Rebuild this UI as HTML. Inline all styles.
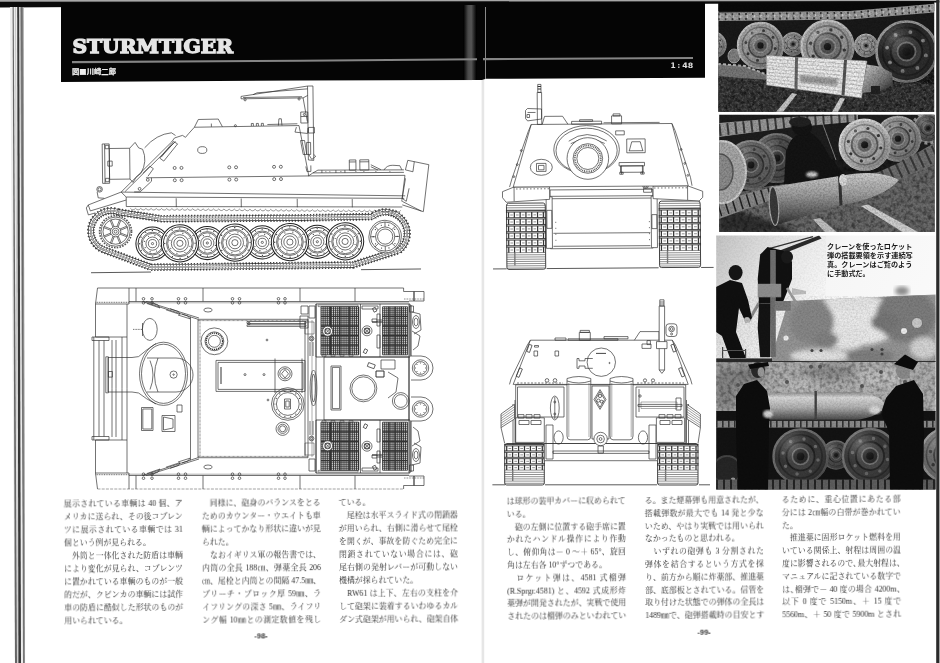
<!DOCTYPE html>
<html lang="ja"><head><meta charset="utf-8"><title>STURMTIGER</title>
<style>
html,body{margin:0;padding:0;background:#fff;}
body{width:940px;height:663px;overflow:hidden;position:relative;font-family:"Liberation Serif","Noto Serif CJK JP","Noto Serif CJK SC",serif;color:#222;}
.abs{position:absolute;}
/*c*/.col{position:absolute;will-change:transform;width:119px;font-size:7.9px;line-height:13.05px;color:#303030;font-weight:400;}
.col p{margin:0;text-align:justify;text-align-last:justify;white-space:nowrap;height:13.05px;}
.col .h{letter-spacing:-0.45em;}
.col p.e{text-align-last:left;}
.rp p{height:12.8px;}
.rp{line-height:12.8px;}
.pg{position:absolute;will-change:transform;font-family:"Liberation Sans",sans-serif;font-weight:bold;font-size:7.5px;color:#333;}
.cap{position:absolute;will-change:transform;left:826.5px;top:243.2px;width:88px;letter-spacing:0.02px;font-family:"Liberation Sans","Noto Sans CJK JP","Noto Sans CJK SC",sans-serif;font-weight:bold;font-size:7.13px;line-height:8.97px;color:#1a1a1a;}
.cap p{margin:0;white-space:nowrap;}
</style></head>
<body>

<svg class="abs" style="left:0;top:0;will-change:transform" width="940" height="663" viewBox="0 0 940 663">
<defs>
<linearGradient id="gut" x1="0" x2="1" y1="0" y2="0">
<stop offset="0" stop-color="#000"/><stop offset="0.35" stop-color="#4a4a4a"/><stop offset="0.6" stop-color="#555"/><stop offset="1" stop-color="#000"/>
</linearGradient>
<linearGradient id="topg" x1="0" x2="0" y1="0" y2="1">
<stop offset="0" stop-color="#bbb"/><stop offset="0.3" stop-color="#777"/><stop offset="0.45" stop-color="#111"/><stop offset="1" stop-color="#000"/>
</linearGradient>
</defs>
<!-- top scan edge -->
<rect x="0" y="0" width="940" height="2.2" fill="#a8a8a8"/>
<path d="M0 1.7L940 1.1L940 2.6L0 7.4Z" fill="#0a0a0a"/>
<!-- left page edges -->
<path d="M10 7L23.6 7L25.2 663L14.8 663Z" fill="#ececec"/>
<path d="M12.6 7L13.7 7L17 663L15 663Z" fill="#666"/>
<path d="M15.2 7L15.9 7L18 663L17.4 663Z" fill="#bbb"/>
<path d="M17.2 7L19.2 7L21 663L18.4 663Z" fill="#383838"/>
<path d="M20.2 7L23.5 7L25 663L23 663Z" fill="#8c8c8c"/>
<path d="M21.4 7L22.2 7L23.8 663L23.4 663Z" fill="#555"/>
<!-- right edge -->
<rect x="936.2" y="0" width="3.3" height="663" fill="#2a2a2a"/>
<rect x="939.4" y="0" width="0.6" height="663" fill="#aaa"/>
<!-- header black -->
<path d="M61 3 L705 2 L705 77.7 L486 78.8 L482 80 L300 80.6 L61 82 Z" fill="#050505"/>
<rect x="463.5" y="5" width="13" height="75" fill="url(#gut)"/>
<rect x="485.2" y="7" width="0.8" height="72" fill="#aaa"/>
<!-- gray rule -->
<path d="M72 60.9 L300 59.7 L477 58.3 L477 60.3 L300 61.8 L72 63.2 Z" fill="#858585"/>
<path d="M483 58.1 L693 56.9 L693 59 L483 60.2 Z" fill="#858585"/>
<!-- gutter line below -->
<rect x="481.6" y="80" width="2.6" height="583" fill="#e6e6e6"/>
<text x="72.4" y="52.8" font-family="DejaVu Serif, Liberation Serif, serif" font-weight="bold" font-size="17.8" fill="#e6e6e6" stroke="#e6e6e6" stroke-width="1.25" stroke-linejoin="miter" textLength="160.6" lengthAdjust="spacingAndGlyphs">STURMTIGER</text>
<text x="72" y="74" font-family="Liberation Sans, Noto Sans CJK JP, Noto Sans CJK SC, sans-serif" font-weight="bold" font-size="7.3" fill="#eee" stroke="#eee" stroke-width="0.25" textLength="44" lengthAdjust="spacingAndGlyphs">図<tspan font-family="Noto Sans CJK JP, Noto Sans CJK SC, sans-serif">■</tspan>川崎二郎</text>
<g font-family="DejaVu Sans, Liberation Sans, sans-serif" font-weight="bold" font-size="7.4" fill="#e0e0e0"><text x="670.4" y="68.3" textLength="5.2" lengthAdjust="spacingAndGlyphs">1</text><text x="677.6" y="67.8" textLength="2.6" lengthAdjust="spacingAndGlyphs">:</text><text x="682.2" y="68.3" textLength="11" lengthAdjust="spacingAndGlyphs">48</text></g>
</svg>

<svg class="abs" style="left:0;top:0" width="940" height="663" viewBox="0 0 940 663"><g transform="rotate(-0.65 260 180)" fill="none" stroke="#303030" stroke-width="0.68" stroke-linejoin="round"><path d="M90 270.8L150 270.8" stroke-width="0.8"/><path d="M360 270.8L420 270.8" stroke-width="0.8"/><path d="M118 210.5 Q140 214 160 217.6 L300 218.4 L372 217.8 A19.5 19.5 0 0 1 398 252 L352 266 L150 266 L103 248 A19.5 19.5 0 0 1 118 210.5Z" stroke="#444" stroke-width="7.6" stroke-dasharray="1.3 1.75" fill="none"/><path d="M118 210.5 Q140 214 160 217.6 L300 218.4 L372 217.8 A19.5 19.5 0 0 1 398 252 L352 266 L150 266 L103 248 A19.5 19.5 0 0 1 118 210.5Z" stroke="#2a2a2a" stroke-width="5.6" fill="none"/><path d="M118 210.5 Q140 214 160 217.6 L300 218.4 L372 217.8 A19.5 19.5 0 0 1 398 252 L352 266 L150 266 L103 248 A19.5 19.5 0 0 1 118 210.5Z" stroke="#fff" stroke-width="4.3" fill="none"/><path d="M118 210.5 Q140 214 160 217.6 L300 218.4 L372 217.8 A19.5 19.5 0 0 1 398 252 L352 266 L150 266 L103 248 A19.5 19.5 0 0 1 118 210.5Z" stroke="#3a3a3a" stroke-width="4.3" stroke-dasharray="0.6 2.45" fill="none"/><path d="M118 210.5 Q140 214 160 217.6 L300 218.4 L372 217.8 A19.5 19.5 0 0 1 398 252 L352 266 L150 266 L103 248 A19.5 19.5 0 0 1 118 210.5Z" stroke="#555" stroke-width="1.6" fill="none"/><path d="M118 210.5 Q140 214 160 217.6 L300 218.4 L372 217.8 A19.5 19.5 0 0 1 398 252 L352 266 L150 266 L103 248 A19.5 19.5 0 0 1 118 210.5Z" stroke="#fff" stroke-width="0.7" fill="none"/><circle cx="151.8" cy="242.4" r="16.6" fill="#fff" stroke-width="1.05" stroke="#222"/><circle cx="151.8" cy="242.4" r="14.5" stroke-width="0.9" stroke="#222"/><circle cx="151.8" cy="242.4" r="11.4" /><circle cx="151.8" cy="242.4" r="10.2" /><circle cx="151.8" cy="242.4" r="6.6" /><circle cx="151.8" cy="242.4" r="4.1" /><circle cx="151.8" cy="242.4" r="1.1" /><path d="M165 242.4h0.01M163.2 249h0.01M158.4 253.8h0.01M151.8 255.6h0.01M145.2 253.8h0.01M140.4 249h0.01M138.6 242.4h0.01M140.4 235.8h0.01M145.2 231h0.01M151.8 229.2h0.01M158.4 231h0.01M163.2 235.8h0.01" stroke-linecap="round" stroke-width="1.3"/><path d="M159.8 244.9h0.01M155.7 249.8h0.01M149.3 250.4h0.01M144.4 246.3h0.01M143.8 239.9h0.01M147.9 235h0.01M154.3 234.4h0.01M159.2 238.5h0.01" stroke-linecap="round" stroke-width="1.1"/><circle cx="206.6" cy="242.4" r="16.6" fill="#fff" stroke-width="1.05" stroke="#222"/><circle cx="206.6" cy="242.4" r="14.5" stroke-width="0.9" stroke="#222"/><circle cx="206.6" cy="242.4" r="11.4" /><circle cx="206.6" cy="242.4" r="10.2" /><circle cx="206.6" cy="242.4" r="6.6" /><circle cx="206.6" cy="242.4" r="4.1" /><circle cx="206.6" cy="242.4" r="1.1" /><path d="M219.8 242.4h0.01M218 249h0.01M213.2 253.8h0.01M206.6 255.6h0.01M200 253.8h0.01M195.2 249h0.01M193.4 242.4h0.01M195.2 235.8h0.01M200 231h0.01M206.6 229.2h0.01M213.2 231h0.01M218 235.8h0.01" stroke-linecap="round" stroke-width="1.3"/><path d="M214.6 244.9h0.01M210.5 249.8h0.01M204.1 250.4h0.01M199.2 246.3h0.01M198.6 239.9h0.01M202.7 235h0.01M209.1 234.4h0.01M214 238.5h0.01" stroke-linecap="round" stroke-width="1.1"/><circle cx="261.6" cy="242.4" r="16.6" fill="#fff" stroke-width="1.05" stroke="#222"/><circle cx="261.6" cy="242.4" r="14.5" stroke-width="0.9" stroke="#222"/><circle cx="261.6" cy="242.4" r="11.4" /><circle cx="261.6" cy="242.4" r="10.2" /><circle cx="261.6" cy="242.4" r="6.6" /><circle cx="261.6" cy="242.4" r="4.1" /><circle cx="261.6" cy="242.4" r="1.1" /><path d="M274.8 242.4h0.01M273 249h0.01M268.2 253.8h0.01M261.6 255.6h0.01M255 253.8h0.01M250.2 249h0.01M248.4 242.4h0.01M250.2 235.8h0.01M255 231h0.01M261.6 229.2h0.01M268.2 231h0.01M273 235.8h0.01" stroke-linecap="round" stroke-width="1.3"/><path d="M269.6 244.9h0.01M265.5 249.8h0.01M259.1 250.4h0.01M254.2 246.3h0.01M253.6 239.9h0.01M257.7 235h0.01M264.1 234.4h0.01M269 238.5h0.01" stroke-linecap="round" stroke-width="1.1"/><circle cx="316.6" cy="242.4" r="16.6" fill="#fff" stroke-width="1.05" stroke="#222"/><circle cx="316.6" cy="242.4" r="14.5" stroke-width="0.9" stroke="#222"/><circle cx="316.6" cy="242.4" r="11.4" /><circle cx="316.6" cy="242.4" r="10.2" /><circle cx="316.6" cy="242.4" r="6.6" /><circle cx="316.6" cy="242.4" r="4.1" /><circle cx="316.6" cy="242.4" r="1.1" /><path d="M329.8 242.4h0.01M328 249h0.01M323.2 253.8h0.01M316.6 255.6h0.01M310 253.8h0.01M305.2 249h0.01M303.4 242.4h0.01M305.2 235.8h0.01M310 231h0.01M316.6 229.2h0.01M323.2 231h0.01M328 235.8h0.01" stroke-linecap="round" stroke-width="1.3"/><path d="M324.6 244.9h0.01M320.5 249.8h0.01M314.1 250.4h0.01M309.2 246.3h0.01M308.6 239.9h0.01M312.7 235h0.01M319.1 234.4h0.01M324 238.5h0.01" stroke-linecap="round" stroke-width="1.1"/><circle cx="179.2" cy="242.4" r="18.6" fill="#fff" stroke-width="1.05" stroke="#222"/><circle cx="179.2" cy="242.4" r="16.5" stroke-width="0.9" stroke="#222"/><circle cx="179.2" cy="242.4" r="13.4" /><circle cx="179.2" cy="242.4" r="12.2" /><circle cx="179.2" cy="242.4" r="8.6" /><circle cx="179.2" cy="242.4" r="6.1" /><circle cx="179.2" cy="242.4" r="3.1" /><path d="M194.4 242.4h0.01M192.4 250h0.01M186.8 255.6h0.01M179.2 257.6h0.01M171.6 255.6h0.01M166 250h0.01M164 242.4h0.01M166 234.8h0.01M171.6 229.2h0.01M179.2 227.2h0.01M186.8 229.2h0.01M192.4 234.8h0.01" stroke-linecap="round" stroke-width="1.3"/><path d="M189.1 245.5h0.01M184.1 251.6h0.01M176.1 252.3h0.01M170 247.3h0.01M169.3 239.3h0.01M174.3 233.2h0.01M182.3 232.5h0.01M188.4 237.5h0.01" stroke-linecap="round" stroke-width="1.1"/><circle cx="234.2" cy="242.4" r="18.6" fill="#fff" stroke-width="1.05" stroke="#222"/><circle cx="234.2" cy="242.4" r="16.5" stroke-width="0.9" stroke="#222"/><circle cx="234.2" cy="242.4" r="13.4" /><circle cx="234.2" cy="242.4" r="12.2" /><circle cx="234.2" cy="242.4" r="8.6" /><circle cx="234.2" cy="242.4" r="6.1" /><circle cx="234.2" cy="242.4" r="3.1" /><path d="M249.4 242.4h0.01M247.4 250h0.01M241.8 255.6h0.01M234.2 257.6h0.01M226.6 255.6h0.01M221 250h0.01M219 242.4h0.01M221 234.8h0.01M226.6 229.2h0.01M234.2 227.2h0.01M241.8 229.2h0.01M247.4 234.8h0.01" stroke-linecap="round" stroke-width="1.3"/><path d="M244.1 245.5h0.01M239.1 251.6h0.01M231.1 252.3h0.01M225 247.3h0.01M224.3 239.3h0.01M229.3 233.2h0.01M237.3 232.5h0.01M243.4 237.5h0.01" stroke-linecap="round" stroke-width="1.1"/><circle cx="289.2" cy="242.4" r="18.6" fill="#fff" stroke-width="1.05" stroke="#222"/><circle cx="289.2" cy="242.4" r="16.5" stroke-width="0.9" stroke="#222"/><circle cx="289.2" cy="242.4" r="13.4" /><circle cx="289.2" cy="242.4" r="12.2" /><circle cx="289.2" cy="242.4" r="8.6" /><circle cx="289.2" cy="242.4" r="6.1" /><circle cx="289.2" cy="242.4" r="3.1" /><path d="M304.4 242.4h0.01M302.4 250h0.01M296.8 255.6h0.01M289.2 257.6h0.01M281.6 255.6h0.01M276 250h0.01M274 242.4h0.01M276 234.8h0.01M281.6 229.2h0.01M289.2 227.2h0.01M296.8 229.2h0.01M302.4 234.8h0.01" stroke-linecap="round" stroke-width="1.3"/><path d="M299.1 245.5h0.01M294.1 251.6h0.01M286.1 252.3h0.01M280 247.3h0.01M279.3 239.3h0.01M284.3 233.2h0.01M292.3 232.5h0.01M298.4 237.5h0.01" stroke-linecap="round" stroke-width="1.1"/><circle cx="344.4" cy="242.4" r="18.6" fill="#fff" stroke-width="1.05" stroke="#222"/><circle cx="344.4" cy="242.4" r="16.5" stroke-width="0.9" stroke="#222"/><circle cx="344.4" cy="242.4" r="13.4" /><circle cx="344.4" cy="242.4" r="12.2" /><circle cx="344.4" cy="242.4" r="8.6" /><circle cx="344.4" cy="242.4" r="6.1" /><circle cx="344.4" cy="242.4" r="3.1" /><path d="M359.6 242.4h0.01M357.6 250h0.01M352 255.6h0.01M344.4 257.6h0.01M336.8 255.6h0.01M331.2 250h0.01M329.2 242.4h0.01M331.2 234.8h0.01M336.8 229.2h0.01M344.4 227.2h0.01M352 229.2h0.01M357.6 234.8h0.01" stroke-linecap="round" stroke-width="1.3"/><path d="M354.3 245.5h0.01M349.3 251.6h0.01M341.3 252.3h0.01M335.2 247.3h0.01M334.5 239.3h0.01M339.5 233.2h0.01M347.5 232.5h0.01M353.6 237.5h0.01" stroke-linecap="round" stroke-width="1.1"/><circle cx="115" cy="230" r="16" fill="#fff" stroke-dasharray="1.6 1.2" stroke-width="1.6" stroke="#555"/><circle cx="115" cy="230" r="14.6" fill="#fff"/><circle cx="115" cy="230" r="12.6" /><circle cx="115" cy="230" r="5.2" /><circle cx="115" cy="230" r="3.4" /><circle cx="115" cy="230" r="1.5" /><path d="M120 231.4L126.9 234.2" /><path d="M119.5 232.6L126.4 235.4" /><path d="M117.6 234.5L120.4 241.4" /><path d="M116.4 235L119.2 241.9" /><path d="M113.6 235L110.8 241.9" /><path d="M112.4 234.5L109.6 241.4" /><path d="M110.5 232.6L103.6 235.4" /><path d="M110 231.4L103.1 234.2" /><path d="M110 228.6L103.1 225.8" /><path d="M110.5 227.4L103.6 224.6" /><path d="M112.4 225.5L109.6 218.6" /><path d="M113.6 225L110.8 218.1" /><path d="M116.4 225L119.2 218.1" /><path d="M117.6 225.5L120.4 218.6" /><path d="M119.5 227.4L126.4 224.6" /><path d="M120 228.6L126.9 225.8" /><circle cx="384.5" cy="238" r="16.3" fill="#fff"/><circle cx="384.5" cy="238" r="14.6" /><circle cx="384.5" cy="238" r="9.6" /><circle cx="384.5" cy="238" r="7.6" /><path d="M396.5 238h0.01M394.2 245.1h0.01M388.2 249.4h0.01M380.8 249.4h0.01M374.8 245.1h0.01M372.5 238h0.01M374.8 230.9h0.01M380.8 226.6h0.01M388.2 226.6h0.01M394.2 230.9h0.01" stroke-linecap="round" stroke-width="1.2"/><path d="M394.1 238L399.1 238" /><path d="M391.3 244.8L394.8 248.3" /><path d="M384.5 247.6L384.5 252.6" /><path d="M377.7 244.8L374.2 248.3" /><path d="M374.9 238L369.9 238" /><path d="M377.7 231.2L374.2 227.7" /><path d="M384.5 228.4L384.5 223.4" /><path d="M391.3 231.2L394.8 227.7" /><path d="M88 203L121 190.5L405 197.5" /><path d="M121 190.5L126 195.5L404 200" /><path d="M88 203L90 209L126 198.5" /><path d="M126 195.5L126 205L402 208.6" /><path d="M130 206.8 q2.6 3.2 5.2 0.1 q2.6 3.2 5.2 0.1 q2.6 3.2 5.2 0.1 q2.6 3.2 5.2 0.1 q2.6 3.2 5.2 0.1 q2.6 3.2 5.2 0.1 q2.6 3.2 5.2 0.1 q2.6 3.2 5.2 0.1 q2.6 3.2 5.2 0.1 q2.6 3.2 5.2 0.1 q2.6 3.2 5.2 0.1 q2.6 3.2 5.2 0.1 q2.6 3.2 5.2 0.1 q2.6 3.2 5.2 0.1 q2.6 3.2 5.2 0.1 q2.6 3.2 5.2 0.1 q2.6 3.2 5.2 0.1 q2.6 3.2 5.2 0.1 q2.6 3.2 5.2 0.1 q2.6 3.2 5.2 0.1 q2.6 3.2 5.2 0.1 q2.6 3.2 5.2 0.1 q2.6 3.2 5.2 0.1 q2.6 3.2 5.2 0.1 q2.6 3.2 5.2 0.1 q2.6 3.2 5.2 0.1 q2.6 3.2 5.2 0.1 q2.6 3.2 5.2 0.1 q2.6 3.2 5.2 0.1 q2.6 3.2 5.2 0.1 q2.6 3.2 5.2 0.1 q2.6 3.2 5.2 0.1 q2.6 3.2 5.2 0.1 q2.6 3.2 5.2 0.1 q2.6 3.2 5.2 0.1 q2.6 3.2 5.2 0.1 q2.6 3.2 5.2 0.1 q2.6 3.2 5.2 0.1 q2.6 3.2 5.2 0.1 q2.6 3.2 5.2 0.1 q2.6 3.2 5.2 0.1 q2.6 3.2 5.2 0.1 q2.6 3.2 5.2 0.1 q2.6 3.2 5.2 0.1 q2.6 3.2 5.2 0.1 q2.6 3.2 5.2 0.1 q2.6 3.2 5.2 0.1 q2.6 3.2 5.2 0.1 q2.6 3.2 5.2 0.1 q2.6 3.2 5.2 0.1 q2.6 3.2 5.2 0.1 q2.6 3.2 5.2 0.1" stroke-width="0.5"/><path d="M176 197.3L176 206.2" /><path d="M241 198.3L241 207" /><path d="M297 199.2L297 207.7" /><path d="M352 200.1L352 208.4" /><path d="M88 203L86 206L88 213L95 211" /><circle cx="99.5" cy="187.5" r="2.8" /><circle cx="99.5" cy="187.5" r="1.6" /><path d="M97 190L98 196L104 196.5" /><path d="M121 190.5L172 141L175 137L183 134.5L186 136.5L189 133L195 126.5L299.6 126L308.5 174.5L308.5 176.5L146 176.5" /><path d="M125 190L176 140.5" /><path d="M308.5 176.5L313 173.5" /><path d="M195 126.5L199 118.8L219 118.6L223 126.3" /><path d="M212 123L212 126.3" /><circle cx="236" cy="125.4" r="1" /><path d="M252 126L252 123.4L254 123.4L254 126" /><path d="M257 126L257 123.4L259 123.4L259 126" /><path d="M262 126L262 123.4L264 123.4L264 126" /><path d="M279 125.8L279.6 119L282 119L282.6 125.8" /><path d="M268 124.6L298 124.2" /><circle cx="174.8" cy="167" r="1.5" /><circle cx="174.8" cy="179.3" r="1.5" /><circle cx="181.6" cy="167" r="1.5" /><circle cx="181.6" cy="179.3" r="1.5" /><circle cx="229.4" cy="167" r="1.5" /><circle cx="229.4" cy="179.3" r="1.5" /><circle cx="236.2" cy="167" r="1.5" /><circle cx="236.2" cy="179.3" r="1.5" /><circle cx="274.2" cy="167" r="1.5" /><circle cx="274.2" cy="179.3" r="1.5" /><circle cx="281" cy="167" r="1.5" /><circle cx="281" cy="179.3" r="1.5" /><ellipse cx="202.6" cy="149.4" rx="4.6" ry="3.4" /><path d="M160 157L174 140.5L178 143L164 160L160 157" /><path d="M161.5 156L174.5 141.5" /><path d="M143 172L150 165L153.5 167.5L148 175" /><path d="M134 190.5L140 190.5L151.5 180L151.5 176.5" /><circle cx="147.8" cy="178.6" r="1.4" /><circle cx="139.5" cy="187.5" r="1.4" /><path d="M145 146.5 Q157 133 172 131.8 L176 134.5"/><path d="M143 148 Q148 160 141 172"/><path d="M143 148L139 146.5L135.5 141L130 146.8L130 177.5L133 181L136 176L141 172" /><path d="M130 146.8L109.6 146.8L109.6 177.6L130 177.6" /><rect x="102.6" y="142.2" width="7" height="39.4" /><path d="M105 142.2L105 181.6" /><rect x="108" y="159.4" width="4.4" height="5" /><rect x="105.6" y="143.6" width="3.6" height="3.4" /><rect x="105.6" y="176.6" width="3.6" height="3.4" /><path d="M313 173.5L318 170.8L404 171.5" /><path d="M313 173.5L404 174" /><path d="M308.5 176.5L405 177" /><rect x="349.5" y="161" width="6.6" height="10.2" /><rect x="360" y="161" width="9" height="10.2" /><path d="M349.5 163L356 163" /><path d="M360 163L369 163" /><path d="M371 166L381 171" /><path d="M371 168L378 171.3" /><path d="M384 171.5 Q387 166.5 393 166.8 L400 167.3 L402 171.5"/><path d="M322 170.9L322 173.7" /><path d="M336 171L336 173.8" /><path d="M345 171L345 173.8" /><path d="M330 172.6h0.01M326 172.5h0.01M341 172.5h0.01M356 172.6h0.01M364 172.6h0.01M376 172.7h0.01M390 172.8h0.01" stroke-linecap="round" stroke-width="1"/><path d="M408 162L429 166.6L423 213.5L402 206.5" /><path d="M408 162L405.5 171.5L413 173.5L414.5 163.4" /><path d="M405 177L401.5 203" /><path d="M405.5 180L402 200L406 203L409 190" /><path d="M402 203L421 213" /><path d="M308.6 160.5L308.6 86.6L314 86.6L314 161Z" /><path d="M242 96.2L308.6 86.6" /><path d="M242 96.2L242 98.6L304 98.4L308.6 96" /><path d="M244 97.3L303 97.2" /><path d="M254 94.6L258 92.8L308.6 89.4" /><circle cx="246" cy="99.6" r="1.1" /><circle cx="300" cy="99.4" r="1.1" /><path d="M304 98.4L308 122" /><rect x="301.5" y="112.5" width="7" height="11" /><path d="M301.5 117L308.5 117" /><circle cx="305" cy="115" r="1" /><path d="M297 127.5L295.5 132.5L308 134L308.6 128.5" /><rect x="309" y="128" width="6" height="5.6" /><path d="M301 141L303.5 155L307 155L305 141L301 141" /><rect x="307" y="143" width="4" height="12" /><path d="M309 155L312 160L316 157L314 155" /><path d="M306 167L307 172L311 172L311 166" /></g></svg>
<svg class="abs" style="left:0;top:0" width="940" height="663" viewBox="0 0 940 663"><g fill="none" stroke="#303030" stroke-width="0.68" stroke-linejoin="round"><path d="M97.5 288L403.6 288" /><path d="M97.5 489L403.6 489" stroke-dasharray="3 1.2" stroke="#777"/><path d="M129 301.5L409 301.5" /><path d="M129 475.5L409 475.5" /><path d="M129 302.8L409 302.8" stroke-width="0.4"/><path d="M129 474.2L409 474.2" stroke-width="0.4"/><path d="M97.5 288L95.5 304L129 304L129 288" /><path d="M95.5 304L95.5 337L127 337L127 304" /><path d="M95.5 302.3L129 302.3" stroke-width="1" stroke="#666" stroke-dasharray="1 0.7"/><rect x="92" y="337" width="17" height="3.5" /><path d="M136 288L136 301.5" /><path d="M203 288L203 301.5" /><path d="M300 288L300 301.5" /><path d="M355 288L355 301.5" /><path d="M403.6 288L403.6 291.5L424 291.5L424 301L409 301" /><path d="M404 299L424 299" stroke-dasharray="0.8 0.8"/><path d="M414 291.5L414 301" stroke-width="1.2"/><circle cx="143.5" cy="298.8" r="1.3" /><circle cx="143.5" cy="302.8" r="1.3" /><circle cx="152" cy="298.8" r="1.3" /><circle cx="152" cy="302.8" r="1.3" /><circle cx="178.5" cy="298.8" r="1.3" /><circle cx="178.5" cy="302.8" r="1.3" /><circle cx="185.5" cy="298.8" r="1.3" /><circle cx="185.5" cy="302.8" r="1.3" /><circle cx="232.5" cy="298.8" r="1.3" /><circle cx="232.5" cy="302.8" r="1.3" /><circle cx="239.5" cy="298.8" r="1.3" /><circle cx="239.5" cy="302.8" r="1.3" /><circle cx="278.5" cy="298.8" r="1.3" /><circle cx="278.5" cy="302.8" r="1.3" /><circle cx="285" cy="298.8" r="1.3" /><circle cx="285" cy="302.8" r="1.3" /><ellipse cx="208" cy="310" rx="4.2" ry="2" /><path d="M142.5 301.5L198 319.3L308 319.3" /><path d="M146 301.5L199 318" /><path d="M198 320.6L308 320.6" stroke-width="0.9" stroke="#666" stroke-dasharray="0.8 0.5"/><path d="M147 303.5L160 308L158 305L151 302" /><path d="M166 309.8L180 314.4L178.5 311.6L170 308.6" /><path d="M178 315L190 318.8L188 316L182 314" /><path d="M127 337L127 388.5" /><path d="M122 337L122 388.5" /><path d="M116 340L116 388.5" /><path d="M112 340L112 388.5" /><rect x="321" y="306.8" width="37.6" height="48" stroke-width="0.9"/><path d="M323.1 306.8v48M325.2 306.8v48M327.3 306.8v48M329.4 306.8v48M331.4 306.8v48M333.5 306.8v48M335.6 306.8v48M337.7 306.8v48M339.8 306.8v48M341.9 306.8v48M344 306.8v48M346.1 306.8v48M348.2 306.8v48M350.2 306.8v48M352.3 306.8v48M354.4 306.8v48M356.5 306.8v48M321 308.8h37.6M321 310.8h37.6M321 312.8h37.6M321 314.8h37.6M321 316.8h37.6M321 318.8h37.6M321 320.8h37.6M321 322.8h37.6M321 324.8h37.6M321 326.8h37.6M321 328.8h37.6M321 330.8h37.6M321 332.8h37.6M321 334.8h37.6M321 336.8h37.6M321 338.8h37.6M321 340.8h37.6M321 342.8h37.6M321 344.8h37.6M321 346.8h37.6M321 348.8h37.6M321 350.8h37.6M321 352.8h37.6" stroke-width="0.85" stroke="#2a2a2a"/><path d="M321 316.4h37.6M321 326h37.6M321 335.6h37.6M321 345.2h37.6M330.4 306.8v48M339.8 306.8v48M349.2 306.8v48" stroke-width="1.3" stroke="#333"/><rect x="382.6" y="306.8" width="25" height="48" stroke-width="0.9"/><path d="M384.7 306.8v48M386.8 306.8v48M388.9 306.8v48M390.9 306.8v48M393 306.8v48M395.1 306.8v48M397.2 306.8v48M399.3 306.8v48M401.4 306.8v48M403.4 306.8v48M405.5 306.8v48M382.6 308.8h25M382.6 310.8h25M382.6 312.8h25M382.6 314.8h25M382.6 316.8h25M382.6 318.8h25M382.6 320.8h25M382.6 322.8h25M382.6 324.8h25M382.6 326.8h25M382.6 328.8h25M382.6 330.8h25M382.6 332.8h25M382.6 334.8h25M382.6 336.8h25M382.6 338.8h25M382.6 340.8h25M382.6 342.8h25M382.6 344.8h25M382.6 346.8h25M382.6 348.8h25M382.6 350.8h25M382.6 352.8h25" stroke-width="0.85" stroke="#2a2a2a"/><path d="M382.6 316.4h25M382.6 326h25M382.6 335.6h25M382.6 345.2h25M388.9 306.8v48M395.1 306.8v48M401.4 306.8v48" stroke-width="1.3" stroke="#333"/><circle cx="327.6" cy="331.2" r="5" fill="#fff"/><circle cx="327.6" cy="331.2" r="3" /><rect x="325.4" y="328.9" width="4.5" height="4.5" /><path d="M325.4 328.9L329.9 333.4" /><path d="M325.4 333.4L329.9 328.9" /><circle cx="367" cy="330.8" r="5" fill="#fff"/><circle cx="367" cy="330.8" r="3" /><rect x="364.8" y="328.6" width="4.5" height="4.5" /><path d="M364.8 328.6L369.2 333.1" /><path d="M364.8 333.1L369.2 328.6" /><rect x="316" y="304" width="94" height="53" stroke-width="0.8"/><path d="M360.5 304L360.5 357" /><path d="M380 304L380 357" /><rect x="372" y="319" width="5" height="3" /><rect x="377" y="314" width="3" height="12" /><rect x="377" y="335" width="3" height="13" /><rect x="318" y="305" width="40" height="1.6" stroke-width="0.5"/><rect x="322" y="354.8" width="4" height="1.6" stroke-width="0.5"/><rect x="331" y="354.8" width="4" height="1.6" stroke-width="0.5"/><rect x="340" y="354.8" width="4" height="1.6" stroke-width="0.5"/><rect x="349" y="354.8" width="4" height="1.6" stroke-width="0.5"/><rect x="362" y="306" width="16" height="3" /><rect x="364" y="349" width="3" height="4" transform="rotate(25 365 351)"/><rect x="373" y="308" width="3" height="4" transform="rotate(-25 374 309.5)"/><path d="M358.6 306.8L358.6 354.8" stroke-width="1.2"/><path d="M382.6 320L378 320" /><path d="M382.6 322L372 322" stroke-width="1"/><rect x="309" y="306" width="6" height="12" /><rect x="305" y="322" width="9" height="12" stroke-width="0.5"/><circle cx="311.5" cy="338.5" r="2.4" /><circle cx="311.5" cy="338.5" r="1.2" /><path d="M310 342L310 356" /><path d="M313 342L313 356" /><path d="M411 305L411 356" stroke-width="0.9"/><rect x="409.5" y="306" width="4" height="6" /><path d="M412 312L420 314L421 330L414 334" /><path d="M411 356 L421 356 A12 12 0 0 1 421 380 L411 380"/><circle cx="420.5" cy="368" r="8.2" /><circle cx="420.5" cy="368" r="6.4" /><path d="M425.5 368h0.01M424 371.5h0.01M420.5 373h0.01M417 371.5h0.01M415.5 368h0.01M417 364.5h0.01M420.5 363h0.01M424 364.5h0.01" stroke-linecap="round" stroke-width="0.9"/><ellipse cx="416" cy="322" rx="3.5" ry="6.5" /><ellipse cx="416" cy="322" rx="2" ry="4" /><path d="M412 331L420 336L418 346L413 350" /><path d="M97.5 489L95.5 473L129 473L129 489" /><path d="M95.5 473L95.5 440L127 440L127 473" /><path d="M95.5 474.7L129 474.7" stroke-width="1" stroke="#666" stroke-dasharray="1 0.7"/><rect x="92" y="436.5" width="17" height="3.5" /><path d="M136 489L136 475.5" /><path d="M203 489L203 475.5" /><path d="M300 489L300 475.5" /><path d="M355 489L355 475.5" /><path d="M403.6 489L403.6 485.5L424 485.5L424 476L409 476" /><path d="M404 478L424 478" stroke-dasharray="0.8 0.8"/><path d="M414 485.5L414 476" stroke-width="1.2"/><circle cx="143.5" cy="478.2" r="1.3" /><circle cx="143.5" cy="474.2" r="1.3" /><circle cx="152" cy="478.2" r="1.3" /><circle cx="152" cy="474.2" r="1.3" /><circle cx="178.5" cy="478.2" r="1.3" /><circle cx="178.5" cy="474.2" r="1.3" /><circle cx="185.5" cy="478.2" r="1.3" /><circle cx="185.5" cy="474.2" r="1.3" /><circle cx="232.5" cy="478.2" r="1.3" /><circle cx="232.5" cy="474.2" r="1.3" /><circle cx="239.5" cy="478.2" r="1.3" /><circle cx="239.5" cy="474.2" r="1.3" /><circle cx="278.5" cy="478.2" r="1.3" /><circle cx="278.5" cy="474.2" r="1.3" /><circle cx="285" cy="478.2" r="1.3" /><circle cx="285" cy="474.2" r="1.3" /><ellipse cx="208" cy="467" rx="4.2" ry="2" /><path d="M142.5 475.5L198 457.7L308 457.7" /><path d="M146 475.5L199 459" /><path d="M198 456.4L308 456.4" stroke-width="0.9" stroke="#666" stroke-dasharray="0.8 0.5"/><path d="M147 473.5L160 469L158 472L151 475" /><path d="M166 467.2L180 462.6L178.5 465.4L170 468.4" /><path d="M178 462L190 458.2L188 461L182 463" /><path d="M127 440L127 388.5" /><path d="M122 440L122 388.5" /><path d="M116 437L116 388.5" /><path d="M112 437L112 388.5" /><rect x="321" y="422.2" width="37.6" height="48" stroke-width="0.9"/><path d="M323.1 422.2v48M325.2 422.2v48M327.3 422.2v48M329.4 422.2v48M331.4 422.2v48M333.5 422.2v48M335.6 422.2v48M337.7 422.2v48M339.8 422.2v48M341.9 422.2v48M344 422.2v48M346.1 422.2v48M348.2 422.2v48M350.2 422.2v48M352.3 422.2v48M354.4 422.2v48M356.5 422.2v48M321 424.2h37.6M321 426.2h37.6M321 428.2h37.6M321 430.2h37.6M321 432.2h37.6M321 434.2h37.6M321 436.2h37.6M321 438.2h37.6M321 440.2h37.6M321 442.2h37.6M321 444.2h37.6M321 446.2h37.6M321 448.2h37.6M321 450.2h37.6M321 452.2h37.6M321 454.2h37.6M321 456.2h37.6M321 458.2h37.6M321 460.2h37.6M321 462.2h37.6M321 464.2h37.6M321 466.2h37.6M321 468.2h37.6" stroke-width="0.85" stroke="#2a2a2a"/><path d="M321 431.8h37.6M321 441.4h37.6M321 451h37.6M321 460.6h37.6M330.4 422.2v48M339.8 422.2v48M349.2 422.2v48" stroke-width="1.3" stroke="#333"/><rect x="382.6" y="422.2" width="25" height="48" stroke-width="0.9"/><path d="M384.7 422.2v48M386.8 422.2v48M388.9 422.2v48M390.9 422.2v48M393 422.2v48M395.1 422.2v48M397.2 422.2v48M399.3 422.2v48M401.4 422.2v48M403.4 422.2v48M405.5 422.2v48M382.6 424.2h25M382.6 426.2h25M382.6 428.2h25M382.6 430.2h25M382.6 432.2h25M382.6 434.2h25M382.6 436.2h25M382.6 438.2h25M382.6 440.2h25M382.6 442.2h25M382.6 444.2h25M382.6 446.2h25M382.6 448.2h25M382.6 450.2h25M382.6 452.2h25M382.6 454.2h25M382.6 456.2h25M382.6 458.2h25M382.6 460.2h25M382.6 462.2h25M382.6 464.2h25M382.6 466.2h25M382.6 468.2h25" stroke-width="0.85" stroke="#2a2a2a"/><path d="M382.6 431.8h25M382.6 441.4h25M382.6 451h25M382.6 460.6h25M388.9 422.2v48M395.1 422.2v48M401.4 422.2v48" stroke-width="1.3" stroke="#333"/><circle cx="327.6" cy="445.8" r="5" fill="#fff"/><circle cx="327.6" cy="445.8" r="3" /><rect x="325.4" y="443.6" width="4.5" height="4.5" /><path d="M325.4 443.6L329.9 448.1" /><path d="M325.4 448.1L329.9 443.6" /><circle cx="367" cy="446.2" r="5" fill="#fff"/><circle cx="367" cy="446.2" r="3" /><rect x="364.8" y="443.9" width="4.5" height="4.5" /><path d="M364.8 443.9L369.2 448.4" /><path d="M364.8 448.4L369.2 443.9" /><rect x="316" y="420" width="94" height="53" stroke-width="0.8"/><path d="M360.5 473L360.5 420" /><path d="M380 473L380 420" /><rect x="372" y="455" width="5" height="3" /><rect x="377" y="451" width="3" height="12" /><rect x="377" y="429" width="3" height="13" /><rect x="318" y="470.4" width="40" height="1.6" stroke-width="0.5"/><rect x="322" y="420.6" width="4" height="1.6" stroke-width="0.5"/><rect x="331" y="420.6" width="4" height="1.6" stroke-width="0.5"/><rect x="340" y="420.6" width="4" height="1.6" stroke-width="0.5"/><rect x="349" y="420.6" width="4" height="1.6" stroke-width="0.5"/><rect x="362" y="468" width="16" height="3" /><rect x="364" y="424" width="3" height="4" transform="rotate(25 365 426)"/><rect x="373" y="466" width="3" height="4" transform="rotate(-25 374 467.5)"/><path d="M358.6 470.2L358.6 422.2" stroke-width="1.2"/><path d="M382.6 457L378 457" /><path d="M382.6 455L372 455" stroke-width="1"/><rect x="309" y="459" width="6" height="12" /><rect x="305" y="443" width="9" height="12" stroke-width="0.5"/><circle cx="311.5" cy="438.5" r="2.4" /><circle cx="311.5" cy="438.5" r="1.2" /><path d="M310 435L310 421" /><path d="M313 435L313 421" /><path d="M411 472L411 421" stroke-width="0.9"/><rect x="409.5" y="465" width="4" height="6" /><path d="M412 465L420 463L421 447L414 443" /><path d="M411 421 L421 421 A12 12 0 0 0 421 397 L411 397"/><circle cx="420.5" cy="409" r="8.2" /><circle cx="420.5" cy="409" r="6.4" /><path d="M425.5 409h0.01M424 412.5h0.01M420.5 414h0.01M417 412.5h0.01M415.5 409h0.01M417 405.5h0.01M420.5 404h0.01M424 405.5h0.01" stroke-linecap="round" stroke-width="0.9"/><ellipse cx="416" cy="455" rx="3.5" ry="6.5" /><ellipse cx="416" cy="455" rx="2" ry="4" /><path d="M412 446L420 441L418 431L413 427" /><path d="M93.8 337L93.8 440" /><path d="M99 340.5L99 436.5" /><path d="M104 340.5L104 436.5" /><path d="M198 319.3L198 457.7" /><path d="M190.5 316.8L190.5 460.2" /><path d="M200 320.5L200 456.5" stroke-dasharray="0.8 0.6"/><path d="M308 319.3L308 457.7" /><path d="M305 320.5L305 456.5" /><path d="M316 304L316 473" /><path d="M312 320L312 457" stroke-width="0.4"/><ellipse cx="149.8" cy="329.4" rx="7.4" ry="11" /><path d="M142.5 323L142.5 336" /><path d="M133 329.4L142.5 329.4" stroke-dasharray="1 0.6"/><ellipse cx="163.5" cy="373.8" rx="24" ry="31.6" /><ellipse cx="163.5" cy="373.8" rx="22" ry="29.6" /><path d="M138.6 356.6 L132 357.5 L108 357.5 L108 392 L132 392 L138.6 393"/><rect x="105.8" y="356.8" width="2.6" height="36" /><rect x="108.4" y="371.5" width="4" height="5.6" /><path d="M138.6 356.6 Q146 350 156 343.5"/><path d="M138.6 393 Q146 399 156 404"/><path d="M147 358 L176 358 A17 17 0 0 1 176 392 L147 392"/><path d="M150 360.5 Q156 375 150 389.5"/><path d="M158 358 Q151 375 158 392"/><circle cx="173.6" cy="374.6" r="3.6" /><circle cx="173.6" cy="374.6" r="0.7" /><rect x="141.5" y="407.5" width="11.5" height="23" /><rect x="142.8" y="409" width="9" height="20" /><rect x="162" y="415.5" width="13" height="16" /><path d="M163.5 417L173 419L173 428L163.5 430Z" /><rect x="177" y="405" width="5" height="7" /><circle cx="214.4" cy="341.3" r="13.4" /><circle cx="214.4" cy="341.3" r="9.4" /><circle cx="214.4" cy="341.3" r="8.2" stroke-dasharray="1.2 0.8" stroke-width="1.4"/><circle cx="214.4" cy="341.3" r="6" /><rect x="216" y="360.4" width="89" height="31" /><rect x="218" y="362.4" width="85" height="27" /><path d="M221 367L221 384" stroke-width="1"/><circle cx="245" cy="374.6" r="1" /><circle cx="264" cy="374.6" r="1" /><path d="M275 358.5L275 393" /><path d="M302 358.5L302 393" /><circle cx="285" cy="373.8" r="7" /><circle cx="285" cy="373.8" r="5.2" /><path d="M285 369.5L288.5 373.8L285 378L281.5 373.8Z" /><rect x="247" y="321.5" width="59" height="2" /><rect x="247" y="324.8" width="59" height="1.6" /><circle cx="249" cy="323.6" r="1.2" /><rect x="300" y="316" width="8" height="12" /><rect x="301" y="306" width="7" height="8" /><circle cx="287.8" cy="404" r="16.3" /><circle cx="287.8" cy="404" r="14.4" /><circle cx="287.8" cy="404" r="11.4" /><path d="M300.7 404h0.01M299.4 409.6h0.01M295.8 414.1h0.01M290.7 416.6h0.01M284.9 416.6h0.01M279.8 414.1h0.01M276.2 409.6h0.01M274.9 404h0.01M276.2 398.4h0.01M279.8 393.9h0.01M284.9 391.4h0.01M290.7 391.4h0.01M295.8 393.9h0.01M299.4 398.4h0.01" stroke-linecap="round" stroke-width="1.1"/><rect x="284.5" y="399" width="6" height="10" /><rect x="285.8" y="401" width="3.4" height="6" /><circle cx="282.6" cy="428.8" r="6.6" /><circle cx="282.6" cy="428.8" r="4.6" /><circle cx="282.6" cy="428.8" r="3" /><circle cx="267" cy="340" r="0.9" /><circle cx="268" cy="400" r="0.9" /><rect x="324" y="357" width="85" height="63" /><rect x="331" y="366" width="10" height="44" /><rect x="332.4" y="367.4" width="7.2" height="41.2" /><circle cx="363.4" cy="388.4" r="13.4" /><circle cx="363.4" cy="388.4" r="11.6" /><circle cx="400.8" cy="401" r="8.4" /><circle cx="400.8" cy="401" r="6.4" /><rect x="381" y="360" width="14" height="9" /><rect x="376" y="371" width="8" height="6" stroke-width="1"/><path d="M388 372L398 378L396 392L388 398" /><rect x="368" y="363.5" width="7" height="4" transform="rotate(20 371 365)"/><ellipse cx="313.5" cy="388" rx="3.4" ry="18" /><ellipse cx="313.5" cy="388" rx="1.8" ry="14" /><path d="M409 304L409 473" stroke-width="0.8"/></g></svg>
<svg class="abs" style="left:0;top:0" width="940" height="663" viewBox="0 0 940 663"><g transform="rotate(-0.4 600 180)" fill="none" stroke="#303030" stroke-width="0.68" stroke-linejoin="round"><path d="M492.4 268.2L506 268.2" stroke-width="0.8"/><path d="M546 268.2L658 268.2" stroke-width="0.8"/><path d="M700.5 268.2L713 268.2" stroke-width="0.8"/><path d="M508.3 202.6 L543.1 202.6 Q545.1 202.6 545.1 205.6 L545.1 266.8 Q545.1 268.8 543.1 268.8 L508.3 268.8 Q506.3 268.8 506.3 266.8 L506.3 205.6 Q506.3 202.6 508.3 202.6Z" fill="#fff" stroke-width="0.9"/><path d="M506.3 204.9h38.8M506.3 207.2h38.8M506.3 209.5h38.8M510 214.4h2.6M515.8 214.4h2.6M521.6 214.4h2.6M527.4 214.4h2.6M533.2 214.4h2.6M539 214.4h2.6M510 221.4h2.6M515.8 221.4h2.6M521.6 221.4h2.6M527.4 221.4h2.6M533.2 221.4h2.6M539 221.4h2.6M510 228.4h2.6M515.8 228.4h2.6M521.6 228.4h2.6M527.4 228.4h2.6M533.2 228.4h2.6M539 228.4h2.6M510 235.4h2.6M515.8 235.4h2.6M521.6 235.4h2.6M527.4 235.4h2.6M533.2 235.4h2.6M539 235.4h2.6M510 242.4h2.6M515.8 242.4h2.6M521.6 242.4h2.6M527.4 242.4h2.6M533.2 242.4h2.6M539 242.4h2.6M510 249.4h2.6M515.8 249.4h2.6M521.6 249.4h2.6M527.4 249.4h2.6M533.2 249.4h2.6M539 249.4h2.6M506.3 252.1h38.8M506.3 254.3h38.8M506.3 256.5h38.8M506.3 258.7h38.8M506.3 260.9h38.8M506.3 263.1h38.8M506.3 265.3h38.8M506.3 267.5h38.8" stroke-width="0.6" stroke="#444"/><path d="M505.7 210.1h40M505.7 211.5h40M505.7 217.1h40M505.7 218.5h40M505.7 224.1h40M505.7 225.5h40M505.7 231.1h40M505.7 232.5h40M505.7 238.1h40M505.7 239.5h40M505.7 245.1h40M505.7 246.5h40" stroke-width="0.85" stroke="#2a2a2a"/><path d="M508.3 211.5v5.6M514.1 211.5v5.6M519.9 211.5v5.6M525.7 211.5v5.6M531.5 211.5v5.6M537.3 211.5v5.6M543.1 211.5v5.6M508.3 218.5v5.6M514.1 218.5v5.6M519.9 218.5v5.6M525.7 218.5v5.6M531.5 218.5v5.6M537.3 218.5v5.6M543.1 218.5v5.6M508.3 225.5v5.6M514.1 225.5v5.6M519.9 225.5v5.6M525.7 225.5v5.6M531.5 225.5v5.6M537.3 225.5v5.6M543.1 225.5v5.6M508.3 232.5v5.6M514.1 232.5v5.6M519.9 232.5v5.6M525.7 232.5v5.6M531.5 232.5v5.6M537.3 232.5v5.6M543.1 232.5v5.6M508.3 239.5v5.6M514.1 239.5v5.6M519.9 239.5v5.6M525.7 239.5v5.6M531.5 239.5v5.6M537.3 239.5v5.6M543.1 239.5v5.6M508.3 246.5v5.6M514.1 246.5v5.6M519.9 246.5v5.6M525.7 246.5v5.6M531.5 246.5v5.6M537.3 246.5v5.6M543.1 246.5v5.6" stroke-width="1.25" stroke="#333"/><path d="M514.3 252.1L514.3 264.8" stroke-width="1.4" stroke="#777"/><path d="M661 201.6 L698 201.6 Q700 201.6 700 204.6 L700 266 Q700 268 698 268 L661 268 Q659 268 659 266 L659 204.6 Q659 201.6 661 201.6Z" fill="#fff" stroke-width="0.9"/><path d="M659 203.9h41M659 206.2h41M659 208.5h41M662.9 213.4h2.8M669 213.4h2.8M675.2 213.4h2.8M681.4 213.4h2.8M687.5 213.4h2.8M693.7 213.4h2.8M662.9 220.4h2.8M669 220.4h2.8M675.2 220.4h2.8M681.4 220.4h2.8M687.5 220.4h2.8M693.7 220.4h2.8M662.9 227.4h2.8M669 227.4h2.8M675.2 227.4h2.8M681.4 227.4h2.8M687.5 227.4h2.8M693.7 227.4h2.8M662.9 234.4h2.8M669 234.4h2.8M675.2 234.4h2.8M681.4 234.4h2.8M687.5 234.4h2.8M693.7 234.4h2.8M662.9 241.4h2.8M669 241.4h2.8M675.2 241.4h2.8M681.4 241.4h2.8M687.5 241.4h2.8M693.7 241.4h2.8M662.9 248.4h2.8M669 248.4h2.8M675.2 248.4h2.8M681.4 248.4h2.8M687.5 248.4h2.8M693.7 248.4h2.8M659 251.1h41M659 253.3h41M659 255.5h41M659 257.7h41M659 259.9h41M659 262.1h41M659 264.3h41M659 266.5h41" stroke-width="0.6" stroke="#444"/><path d="M658.4 209.1h42.2M658.4 210.5h42.2M658.4 216.1h42.2M658.4 217.5h42.2M658.4 223.1h42.2M658.4 224.5h42.2M658.4 230.1h42.2M658.4 231.5h42.2M658.4 237.1h42.2M658.4 238.5h42.2M658.4 244.1h42.2M658.4 245.5h42.2" stroke-width="0.85" stroke="#2a2a2a"/><path d="M661 210.5v5.6M667.2 210.5v5.6M673.3 210.5v5.6M679.5 210.5v5.6M685.7 210.5v5.6M691.8 210.5v5.6M698 210.5v5.6M661 217.5v5.6M667.2 217.5v5.6M673.3 217.5v5.6M679.5 217.5v5.6M685.7 217.5v5.6M691.8 217.5v5.6M698 217.5v5.6M661 224.5v5.6M667.2 224.5v5.6M673.3 224.5v5.6M679.5 224.5v5.6M685.7 224.5v5.6M691.8 224.5v5.6M698 224.5v5.6M661 231.5v5.6M667.2 231.5v5.6M673.3 231.5v5.6M679.5 231.5v5.6M685.7 231.5v5.6M691.8 231.5v5.6M698 231.5v5.6M661 238.5v5.6M667.2 238.5v5.6M673.3 238.5v5.6M679.5 238.5v5.6M685.7 238.5v5.6M691.8 238.5v5.6M698 238.5v5.6M661 245.5v5.6M667.2 245.5v5.6M673.3 245.5v5.6M679.5 245.5v5.6M685.7 245.5v5.6M691.8 245.5v5.6M698 245.5v5.6" stroke-width="1.25" stroke="#333"/><path d="M667 251.1L667 264" stroke-width="1.4" stroke="#777"/><rect x="550" y="189.6" width="102.7" height="58.8" fill="#fff"/><path d="M550 196L652.7 196" /><path d="M550 198.4L652.7 198.4" /><path d="M553 233L650 233" /><path d="M553 246L650 246" /><rect x="546" y="196.5" width="6" height="51.5" fill="#fff"/><rect x="651" y="196.5" width="6" height="51.5" fill="#fff"/><rect x="546.6" y="210" width="5" height="18" /><rect x="651.6" y="215" width="5" height="14" /><path d="M555.5 222h0.01M555.5 228h0.01M555.5 234h0.01M555.5 240h0.01M649 222h0.01M649 228h0.01M649 234h0.01M649 240h0.01" stroke-linecap="round" stroke-width="0.9"/><path d="M514 186.4L549.5 186.4L549.5 199L506 201.6L502.4 197L502.4 191L514 186.4Z" fill="#fff"/><path d="M653 186.4L687.5 186.4L702.6 192L702.6 198L699 201.6L653 199Z" fill="#fff"/><path d="M514 186.4L514 200.6" /><path d="M687.5 186.4L687.5 200.6" /><path d="M516 188.4L549 188.4" stroke-dasharray="1.5 2"/><path d="M654 188.4L687 188.4" stroke-dasharray="1.5 2"/><circle cx="645.5" cy="185.6" r="3" /><circle cx="645.5" cy="185.6" r="1.8" /><rect x="643.5" y="188.6" width="8" height="4" /><path d="M531.6 124L672.3 124L688.2 186.4L513.2 186.4Z" fill="#fff"/><path d="M531.6 124L528.6 131L512 178L509.5 186.4" /><path d="M672.3 124L675.4 131L690.5 178L692 186.4" /><circle cx="521.5" cy="150" r="0.9" /><circle cx="681.3" cy="150" r="0.9" /><circle cx="517.4" cy="164" r="0.9" /><circle cx="684.9" cy="164" r="0.9" /><circle cx="513.9" cy="176" r="0.9" /><circle cx="687.9" cy="176" r="0.9" /><ellipse cx="586.8" cy="149.5" rx="32.8" ry="24" /><ellipse cx="586.8" cy="150.5" rx="30.6" ry="22.4" /><path d="M569 141 Q587 128 607 141"/><path d="M571 143.5 Q587 134 605 143.5"/><circle cx="588" cy="158.4" r="20.8" fill="#fff"/><circle cx="588" cy="158.4" r="14.8" /><circle cx="588" cy="158.4" r="13" stroke-dasharray="0.9 0.9" stroke-width="1.8" stroke="#555"/><circle cx="588" cy="158.4" r="11" /><ellipse cx="541.4" cy="166.9" rx="11" ry="8" /><rect x="536.6" y="163" width="9.5" height="8" /><rect x="538.6" y="165" width="5.5" height="4.4" /><rect x="627" y="139.2" width="18.4" height="13.8" /><path d="M629.5 151L632 142L640.5 142L643 151" /><path d="M629 151L643.5 151" /><rect x="619.2" y="162.7" width="25.4" height="3.4" /><rect x="620.6" y="166.1" width="22.6" height="6.4" /><path d="M621.5 174.4L621.5 166" /><path d="M642.5 174.4L642.5 166" /><rect x="619.8" y="172.4" width="3.4" height="2" /><rect x="640.8" y="172.4" width="3.4" height="2" /><rect x="616" y="131" width="8.6" height="4" /><path d="M542.6 124L545 116L563 116L568.3 124" /><rect x="572" y="121.2" width="30" height="2.8" /><rect x="580" y="119.6" width="13" height="1.6" /><rect x="612" y="116" width="10" height="8" /><rect x="613.5" y="114" width="7" height="2" /><path d="M604 122.8L660 122.8" /><rect x="537.8" y="92" width="4.4" height="32" /><rect x="538.4" y="84" width="3.2" height="8" /><path d="M538.4 86L541.6 86" stroke-width="1"/><path d="M538.4 88.5L541.6 88.5" stroke-width="1"/><path d="M526 110L528 108L542 108.6L542 118.6L528 120.4L526 118L526 110Z" /><path d="M528 112L536 112" /><rect x="527.4" y="114" width="2.6" height="3" /></g></svg>
<svg class="abs" style="left:0;top:0" width="940" height="663" viewBox="0 0 940 663"><g fill="none" stroke="#303030" stroke-width="0.68" stroke-linejoin="round"><path d="M492.4 484.8L505 484.8" stroke-width="0.8"/><path d="M545 484.8L657 484.8" stroke-width="0.8"/><path d="M699 484.8L710 484.8" stroke-width="0.8"/><path d="M506.7 443.5 L542.3 443.5 Q544.3 443.5 544.3 446.5 L544.3 483 Q544.3 485 542.3 485 L506.7 485 Q504.7 485 504.7 483 L504.7 446.5 Q504.7 443.5 506.7 443.5Z" fill="#fff" stroke-width="0.9"/><path d="M508.5 448.5h2.7M514.4 448.5h2.7M520.3 448.5h2.7M526.3 448.5h2.7M532.2 448.5h2.7M538.1 448.5h2.7M508.5 454.9h2.7M514.4 454.9h2.7M520.3 454.9h2.7M526.3 454.9h2.7M532.2 454.9h2.7M538.1 454.9h2.7M508.5 461.3h2.7M514.4 461.3h2.7M520.3 461.3h2.7M526.3 461.3h2.7M532.2 461.3h2.7M538.1 461.3h2.7M508.5 467.7h2.7M514.4 467.7h2.7M520.3 467.7h2.7M526.3 467.7h2.7M532.2 467.7h2.7M538.1 467.7h2.7M504.7 470.1h39.6M504.7 472.3h39.6M504.7 474.5h39.6M504.7 476.7h39.6M504.7 478.9h39.6M504.7 481.1h39.6M504.7 483.3h39.6" stroke-width="0.6" stroke="#444"/><path d="M504.1 444.5h40.8M504.1 445.9h40.8M504.1 450.9h40.8M504.1 452.3h40.8M504.1 457.3h40.8M504.1 458.7h40.8M504.1 463.7h40.8M504.1 465.1h40.8" stroke-width="0.85" stroke="#2a2a2a"/><path d="M506.7 445.9v5M512.6 445.9v5M518.6 445.9v5M524.5 445.9v5M530.4 445.9v5M536.4 445.9v5M542.3 445.9v5M506.7 452.3v5M512.6 452.3v5M518.6 452.3v5M524.5 452.3v5M530.4 452.3v5M536.4 452.3v5M542.3 452.3v5M506.7 458.7v5M512.6 458.7v5M518.6 458.7v5M524.5 458.7v5M530.4 458.7v5M536.4 458.7v5M542.3 458.7v5M506.7 465.1v5M512.6 465.1v5M518.6 465.1v5M524.5 465.1v5M530.4 465.1v5M536.4 465.1v5M542.3 465.1v5" stroke-width="1.25" stroke="#333"/><path d="M512.7 470.1L512.7 481" stroke-width="1.4" stroke="#777"/><path d="M659.6 443.5 L696 443.5 Q698 443.5 698 446.5 L698 483 Q698 485 696 485 L659.6 485 Q657.6 485 657.6 483 L657.6 446.5 Q657.6 443.5 659.6 443.5Z" fill="#fff" stroke-width="0.9"/><path d="M661.4 448.5h2.7M667.5 448.5h2.7M673.6 448.5h2.7M679.6 448.5h2.7M685.7 448.5h2.7M691.8 448.5h2.7M661.4 454.9h2.7M667.5 454.9h2.7M673.6 454.9h2.7M679.6 454.9h2.7M685.7 454.9h2.7M691.8 454.9h2.7M661.4 461.3h2.7M667.5 461.3h2.7M673.6 461.3h2.7M679.6 461.3h2.7M685.7 461.3h2.7M691.8 461.3h2.7M661.4 467.7h2.7M667.5 467.7h2.7M673.6 467.7h2.7M679.6 467.7h2.7M685.7 467.7h2.7M691.8 467.7h2.7M657.6 470.1h40.4M657.6 472.3h40.4M657.6 474.5h40.4M657.6 476.7h40.4M657.6 478.9h40.4M657.6 481.1h40.4M657.6 483.3h40.4" stroke-width="0.6" stroke="#444"/><path d="M657 444.5h41.6M657 445.9h41.6M657 450.9h41.6M657 452.3h41.6M657 457.3h41.6M657 458.7h41.6M657 463.7h41.6M657 465.1h41.6" stroke-width="0.85" stroke="#2a2a2a"/><path d="M659.6 445.9v5M665.7 445.9v5M671.7 445.9v5M677.8 445.9v5M683.9 445.9v5M689.9 445.9v5M696 445.9v5M659.6 452.3v5M665.7 452.3v5M671.7 452.3v5M677.8 452.3v5M683.9 452.3v5M689.9 452.3v5M696 452.3v5M659.6 458.7v5M665.7 458.7v5M671.7 458.7v5M677.8 458.7v5M683.9 458.7v5M689.9 458.7v5M696 458.7v5M659.6 465.1v5M665.7 465.1v5M671.7 465.1v5M677.8 465.1v5M683.9 465.1v5M689.9 465.1v5M696 465.1v5" stroke-width="1.25" stroke="#333"/><path d="M665.6 470.1L665.6 481" stroke-width="1.4" stroke="#777"/><rect x="544.3" y="443.5" width="113.3" height="17.2" fill="#fff"/><rect x="553" y="451" width="96" height="2.4" /><rect x="546" y="425" width="7" height="34" /><rect x="649" y="425" width="7" height="34" /><ellipse cx="558.6" cy="437.5" rx="4.6" ry="6.6" /><ellipse cx="643" cy="437.5" rx="4.6" ry="6.6" /><path d="M515.7 384.8L685.7 384.8L685.7 443.5L515.7 443.5Z" /><rect x="517.5" y="387" width="46.5" height="30" /><rect x="636" y="387" width="48" height="30" /><rect x="515.7" y="417.8" width="28.6" height="24.6" fill="#fff"/><rect x="656.4" y="417.8" width="28.2" height="24.6" fill="#fff"/><rect x="518" y="414.6" width="6" height="3.4" /><rect x="526" y="414.6" width="6" height="3.4" /><rect x="534" y="414.6" width="6" height="3.4" /><rect x="659" y="414.6" width="6" height="3.4" /><rect x="667" y="414.6" width="6" height="3.4" /><rect x="675" y="414.6" width="6" height="3.4" /><rect x="519" y="420.5" width="10" height="4" /><rect x="531" y="420.5" width="10" height="4" /><rect x="660" y="420.5" width="10" height="4" /><rect x="672" y="420.5" width="10" height="4" /><path d="M515 400L515 443" /><path d="M513 404L513 445" /><path d="M686.5 400L686.5 443" /><path d="M688.5 404L688.5 445" /><path d="M501 414L514.5 404.4L514.5 419L501 427.6Z" fill="#fff"/><path d="M700.4 414L687 404.4L687 419L700.4 427.6Z" fill="#fff"/><path d="M501 416.3L514.5 406.8" stroke-width="0.45"/><path d="M700.4 416.3L687 406.8" stroke-width="0.45"/><path d="M501 418.6L514.5 409.3" stroke-width="0.45"/><path d="M700.4 418.6L687 409.3" stroke-width="0.45"/><path d="M501 420.9L514.5 411.8" stroke-width="0.45"/><path d="M700.4 420.9L687 411.8" stroke-width="0.45"/><path d="M501 423.2L514.5 414.2" stroke-width="0.45"/><path d="M700.4 423.2L687 414.2" stroke-width="0.45"/><path d="M501 425.5L514.5 416.6" stroke-width="0.45"/><path d="M700.4 425.5L687 416.6" stroke-width="0.45"/><path d="M501 427.6L504.7 443.5" /><path d="M700.4 427.6L698 443.5" /><path d="M567 378.5 L567 436 Q567 439.8 570 439.8 L587.8 439.8 Q590.8 439.8 590.8 436 L590.8 378.5 Q578.9 374.5 567 378.5Z" fill="#fff"/><path d="M567 381 Q578.9 385 590.8 381"/><path d="M568.8 383L568.8 437" stroke-width="0.4"/><path d="M589 383L589 437" stroke-width="0.4"/><path d="M610 378.5 L610 436 Q610 439.8 613 439.8 L630 439.8 Q633 439.8 633 436 L633 378.5 Q621.5 374.5 610 378.5Z" fill="#fff"/><path d="M610 381 Q621.5 385 633 381"/><path d="M611.8 383L611.8 437" stroke-width="0.4"/><path d="M631.2 383L631.2 437" stroke-width="0.4"/><rect x="592" y="386" width="17" height="53" /><path d="M600 389.6L606 399.5L600 409.4L594 399.5Z" /><path d="M600 391.6L604.6 399.5L600 407.4L595.4 399.5Z" /><circle cx="600" cy="396" r="1.6" /><circle cx="598.4" cy="400.6" r="1.6" /><circle cx="601.6" cy="401.6" r="1.4" /><circle cx="600.6" cy="439" r="6.7" fill="#fff"/><circle cx="600.6" cy="439" r="3.8" /><circle cx="600.6" cy="439" r="1.4" /><rect x="598" y="446" width="5.4" height="7" /><ellipse cx="554.8" cy="408" rx="4.4" ry="12" /><path d="M554.8 397L554.8 419" /><circle cx="554.8" cy="402" r="1" /><circle cx="554.8" cy="414" r="1" /><rect x="638" y="404.4" width="44" height="2" /><rect x="641" y="402" width="36" height="6.5" stroke-width="0.4"/><path d="M639 389L639 412" /><circle cx="640" cy="396" r="1.2" /><rect x="676" y="398" width="5" height="12" /><path d="M530.4 340.2L672.3 340.2L688.2 384.4L513.2 384.4Z" /><path d="M530.4 340.2L527.4 345L511 379L509.5 384.4" /><path d="M672.3 340.2L675.4 345L690.5 379L692 384.4" /><rect x="528" y="344.5" width="3" height="7.5" transform="rotate(20 529 348)"/><rect x="518" y="368" width="3" height="9" transform="rotate(22 519 372)"/><rect x="672" y="344.5" width="3" height="7.5" transform="rotate(-20 673 348)"/><rect x="680" y="368" width="3" height="9" transform="rotate(-22 681 372)"/><circle cx="601.3" cy="362.2" r="14.2" /><path d="M596 353.4L606 353.4" stroke-width="0.9"/><circle cx="609.5" cy="363" r="0.6" /><path d="M592.8 358.5L585 358.5L585 360.8L579 360.8L579 358.5L577 358.5L577 368.3L579 368.3L579 366L585 366L585 368.3L592.8 368.3" /><rect x="534" y="351" width="3.6" height="5" /><rect x="555" y="351" width="3.6" height="5" /><rect x="534.5" y="345.5" width="4" height="1.6" /><rect x="642" y="344" width="9" height="4.4" /><rect x="647" y="340.6" width="3.4" height="4" /><circle cx="547" cy="380.4" r="1.8" /><circle cx="555" cy="380.4" r="1.8" /><circle cx="645" cy="380.4" r="1.6" /><circle cx="653" cy="380.4" r="1.6" /><path d="M517 383L563 383" stroke-dasharray="2 1.5"/><path d="M637 383L684 383" stroke-dasharray="2 1.5"/><rect x="579.3" y="332.4" width="11" height="7.8" /><rect x="580.2" y="330.4" width="9.2" height="2" /><rect x="555" y="338" width="11" height="2.2" /><rect x="568" y="338.8" width="50" height="1.4" /><rect x="604" y="336.6" width="24" height="2.2" /><path d="M634.4 340.2L640 331.6L659 331.6L659 340.2" /><rect x="659.2" y="306" width="5.4" height="64" fill="#fff"/><rect x="659.8" y="299.8" width="4.2" height="6.2" /><path d="M659.8 302L664 302" /><path d="M659.8 304L664 304" /><rect x="656.5" y="341.6" width="10.5" height="7" fill="#fff"/><path d="M659.2 370L661.9 373.4L664.6 370" /><rect x="666" y="323.8" width="11" height="12.7" rx="3"/><circle cx="671.6" cy="329" r="2.8" /><circle cx="671.6" cy="329" r="1.4" /><circle cx="671.6" cy="334" r="1" /></g></svg>
<svg class="abs" style="left:0;top:0" width="940" height="663" viewBox="0 0 940 663"><defs>
<filter id="grain" x="0" y="0" width="100%" height="100%"><feTurbulence type="fractalNoise" baseFrequency="0.55" numOctaves="3" seed="7"/><feColorMatrix type="matrix" values="0 0 0 0 0  0 0 0 0 0  0 0 0 0 0  1.5 0 0 0 -0.5"/></filter>
<filter id="grainw" x="0" y="0" width="100%" height="100%"><feTurbulence type="fractalNoise" baseFrequency="0.45" numOctaves="3" seed="23"/><feColorMatrix type="matrix" values="0 0 0 0 1  0 0 0 0 1  0 0 0 0 1  0 2.0 0 0 -0.85"/></filter>
<filter id="coarse" x="0" y="0" width="100%" height="100%"><feTurbulence type="fractalNoise" baseFrequency="0.25" numOctaves="3" seed="3"/><feColorMatrix type="matrix" values="0 0 0 0 0  0 0 0 0 0  0 0 0 0 0  2.4 0 0 0 -1.0"/></filter>
<filter id="b2"><feGaussianBlur stdDeviation="2"/></filter>
<filter id="b4"><feGaussianBlur stdDeviation="4"/></filter>
<filter id="b1"><feGaussianBlur stdDeviation="0.8"/></filter>
<clipPath id="c1"><rect x="718.4" y="2" width="215.8" height="109.8"/></clipPath>
<clipPath id="c2"><rect x="719.2" y="114.8" width="215.4" height="117.2"/></clipPath>
<clipPath id="cs"><path d="M788.3 301L936 294.6L936 362L770 362Z"/></clipPath><clipPath id="c3"><rect x="716.2" y="235.4" width="219.4" height="254.1"/></clipPath>
<linearGradient id="rk1" x1="0" x2="0" y1="0" y2="1"><stop offset="0" stop-color="#cecece"/><stop offset="0.4" stop-color="#a0a0a0"/><stop offset="0.8" stop-color="#585858"/><stop offset="1" stop-color="#2a2a2a"/></linearGradient>
<linearGradient id="rk3" x1="0" x2="0" y1="0" y2="1"><stop offset="0" stop-color="#8a8a8a"/><stop offset="0.2" stop-color="#d8d8d8"/><stop offset="0.55" stop-color="#b0b0b0"/><stop offset="1" stop-color="#4a4a4a"/></linearGradient>
<linearGradient id="nose1" x1="0" x2="1" y1="0" y2="1"><stop offset="0" stop-color="#d0d0d0"/><stop offset="0.6" stop-color="#777"/><stop offset="1" stop-color="#222"/></linearGradient>
<radialGradient id="wsh" cx="0.32" cy="0.28" r="0.85"><stop offset="0" stop-color="#fff" stop-opacity="0.28"/><stop offset="0.45" stop-color="#888" stop-opacity="0"/><stop offset="1" stop-color="#000" stop-opacity="0.45"/></radialGradient>
<linearGradient id="sky" x1="0" x2="1" y1="0" y2="0.6"><stop offset="0" stop-color="#c2c2c2"/><stop offset="0.22" stop-color="#e4e4e4"/><stop offset="0.45" stop-color="#f6f6f6"/><stop offset="1" stop-color="#fbfbfb"/></linearGradient>
</defs><g clip-path="url(#c1)"><rect x="718" y="3" width="217" height="109" fill="#1a1a1a"/><path d="M718 74L766 78L934 84L934 112L718 112Z" fill="#343434"/><rect x="718" y="72" width="217" height="40" filter="url(#coarse)" opacity="0.6"/><rect x="718" y="72" width="217" height="40" filter="url(#grainw)" opacity="0.22"/><path d="M718 64L745 66L770 76L770 80L740 78L718 76Z" fill="#777"/><path d="M718 64L745 66L770 76" fill="none" stroke="#bbb" stroke-width="2" stroke-dasharray="3 2"/><rect x="718" y="2" width="217" height="9" fill="#0a0a0a"/><path d="M718 12.5L850 11L934 3.8L934 12.4L850 19.6L718 21Z" fill="#9c9c9c"/><path d="M718 16.8L850 15.3L934 8.1" fill="none" stroke="#1a1a1a" stroke-width="7" stroke-dasharray="1.6 5.2" stroke-opacity="0.8"/><path d="M718 16.8L850 15.3L934 8.1" fill="none" stroke="#ddd" stroke-width="3" stroke-dasharray="3 3.8" stroke-opacity="0.6"/><circle cx="793" cy="44" r="11.5" fill="#8c8c8c" stroke="#aaa" stroke-width="1"/><circle cx="793" cy="44" r="9.2" fill="none" stroke="#000" stroke-opacity="0.35" stroke-width="0.7"/><circle cx="793" cy="44" r="6" fill="#8c8c8c" stroke="#000" stroke-opacity="0.5" stroke-width="0.8"/><path d="M800.4 45.5h0.01M797.2 50.3h0.01M791.5 51.4h0.01M786.7 48.2h0.01M785.6 42.5h0.01M788.8 37.7h0.01M794.5 36.6h0.01M799.3 39.8h0.01" stroke="#333" stroke-linecap="round" stroke-width="1.5"/><circle cx="793" cy="44" r="3.4" fill="#555" stroke="#ddd" stroke-opacity="0.35" stroke-width="0.7"/><circle cx="793" cy="44" r="1.6" fill="#111"/><circle cx="793" cy="44" r="12" fill="url(#wsh)"/><circle cx="866" cy="45.5" r="11.5" fill="#9a9a9a" stroke="#bbb" stroke-width="1"/><circle cx="866" cy="45.5" r="9.2" fill="none" stroke="#000" stroke-opacity="0.35" stroke-width="0.7"/><circle cx="866" cy="45.5" r="6" fill="#9a9a9a" stroke="#000" stroke-opacity="0.5" stroke-width="0.8"/><path d="M873.4 47h0.01M870.2 51.8h0.01M864.5 52.9h0.01M859.7 49.7h0.01M858.6 44h0.01M861.8 39.2h0.01M867.5 38.1h0.01M872.3 41.3h0.01" stroke="#333" stroke-linecap="round" stroke-width="1.5"/><circle cx="866" cy="45.5" r="3.4" fill="#666" stroke="#ddd" stroke-opacity="0.35" stroke-width="0.7"/><circle cx="866" cy="45.5" r="1.6" fill="#111"/><circle cx="866" cy="45.5" r="12" fill="url(#wsh)"/><circle cx="713" cy="45" r="13" fill="#999" stroke="#bbb" stroke-width="1.2"/><circle cx="713" cy="45" r="10.4" fill="none" stroke="#000" stroke-opacity="0.35" stroke-width="0.8"/><circle cx="713" cy="45" r="6.8" fill="#999" stroke="#000" stroke-opacity="0.5" stroke-width="0.9"/><path d="M721.4 46.7h0.01M717.7 52.2h0.01M711.3 53.4h0.01M705.8 49.7h0.01M704.6 43.3h0.01M708.3 37.8h0.01M714.7 36.6h0.01M720.2 40.3h0.01" stroke="#333" stroke-linecap="round" stroke-width="1.7"/><circle cx="713" cy="45" r="3.9" fill="#555" stroke="#ddd" stroke-opacity="0.35" stroke-width="0.8"/><circle cx="713" cy="45" r="1.8" fill="#111"/><circle cx="713" cy="45" r="13.5" fill="url(#wsh)"/><ellipse cx="734" cy="56" rx="6" ry="7" fill="#808080" stroke="#aaa" stroke-width="1"/><circle cx="760.5" cy="45.5" r="22.7" fill="#9a9a9a" stroke="#c6c6c6" stroke-width="2"/><circle cx="760.5" cy="45.5" r="18.2" fill="none" stroke="#000" stroke-opacity="0.35" stroke-width="1.4"/><circle cx="760.5" cy="45.5" r="11.8" fill="#7a7a7a" stroke="#000" stroke-opacity="0.5" stroke-width="1.6"/><path d="M775.2 48.5h0.01M768.8 58h0.01M757.5 60.2h0.01M748 53.8h0.01M745.8 42.5h0.01M752.2 33h0.01M763.5 30.8h0.01M773 37.2h0.01" stroke="#333" stroke-linecap="round" stroke-width="3"/><circle cx="760.5" cy="45.5" r="6.8" fill="#5a5a5a" stroke="#ddd" stroke-opacity="0.35" stroke-width="1.4"/><circle cx="760.5" cy="45.5" r="3.2" fill="#111"/><circle cx="760.5" cy="45.5" r="23.6" fill="url(#wsh)"/><circle cx="827.5" cy="46.7" r="26" fill="#a0a0a0" stroke="#cacaca" stroke-width="2.3"/><circle cx="827.5" cy="46.7" r="20.8" fill="none" stroke="#000" stroke-opacity="0.35" stroke-width="1.6"/><circle cx="827.5" cy="46.7" r="13.5" fill="#747474" stroke="#000" stroke-opacity="0.5" stroke-width="1.8"/><path d="M844.3 50.1h0.01M837 61h0.01M824.1 63.5h0.01M813.2 56.2h0.01M810.7 43.3h0.01M818 32.4h0.01M830.9 29.9h0.01M841.8 37.2h0.01" stroke="#333" stroke-linecap="round" stroke-width="3.4"/><circle cx="827.5" cy="46.7" r="7.8" fill="#505050" stroke="#ddd" stroke-opacity="0.35" stroke-width="1.6"/><circle cx="827.5" cy="46.7" r="3.6" fill="#111"/><circle cx="827.5" cy="46.7" r="27" fill="url(#wsh)"/><circle cx="906.5" cy="51.5" r="30" fill="#262626" stroke="#9a9a9a" stroke-width="2.7"/><circle cx="906.5" cy="51.5" r="24" fill="none" stroke="#000" stroke-opacity="0.35" stroke-width="1.8"/><circle cx="906.5" cy="51.5" r="15.6" fill="#3a3a3a" stroke="#000" stroke-opacity="0.5" stroke-width="2.1"/><path d="M925.9 55.4h0.01M917.4 68h0.01M902.6 70.9h0.01M890 62.4h0.01M887.1 47.6h0.01M895.6 35h0.01M910.4 32.1h0.01M923 40.6h0.01" stroke="#888" stroke-linecap="round" stroke-width="3.9"/><circle cx="906.5" cy="51.5" r="9" fill="#1a1a1a" stroke="#ddd" stroke-opacity="0.35" stroke-width="1.8"/><circle cx="906.5" cy="51.5" r="4.2" fill="#111"/><circle cx="906.5" cy="51.5" r="31.2" fill="url(#wsh)"/><path d="M766.5 55.5L867 61L861.5 98L766.5 85Z" fill="#eeeeee" stroke="#999" stroke-width="0.5"/><path d="M766.5 58.8L866.4 65.1M766.5 62.1L865.8 69.2M766.5 65.3L865.2 73.3M766.5 68.6L864.6 77.4M766.5 71.9L863.9 81.6M766.5 75.2L863.3 85.7M766.5 78.4L862.7 89.8M766.5 81.7L862.1 93.9" stroke="#a4a4a4" stroke-width="0.5" fill="none"/><path d="M795 57L798 57.2L797.5 90.4L794.5 89.8Z" fill="#666"/><path d="M844 59.7L847 59.9L844.5 95.6L841.5 95Z" fill="#555"/><path d="M800 75L838 78.5L837.5 86L800 82Z" fill="#999" filter="url(#b1)"/><path d="M867 64.6L880 66.5L892 73L893 85L880 91L861.5 93Z" fill="url(#nose1)"/><rect x="871" y="86" width="9" height="8" fill="#222"/><path d="M792 93L797 94L783 112L776 112Z" fill="#c8c8c8"/><path d="M840 98L845 98.5L838 112L832 112Z" fill="#d0d0d0"/><rect x="718" y="3" width="217" height="109" filter="url(#grain)" opacity="0.3"/></g><g clip-path="url(#c2)"><rect x="719" y="114" width="217" height="119" fill="#1e1e1e"/><path d="M719 196L770 186L880 172L934 158L934 233L719 233Z" fill="#6c6c6c"/><path d="M719 205L780 224L800 233L719 233Z" fill="#333" filter="url(#b2)"/><rect x="719" y="155" width="217" height="78" filter="url(#coarse)" opacity="0.45"/><path d="M719 201L772 187L774 199L719 219Z" fill="#8a8a8a"/><path d="M719 210L773 193" fill="none" stroke="#222" stroke-width="13" stroke-dasharray="1.5 6"/><path d="M719 123L790 117L858 115L858 121.5L790 127.5L719 137Z" fill="#989898"/><path d="M719 130L790 122L858 118" fill="none" stroke="#1a1a1a" stroke-width="12" stroke-dasharray="2 6" stroke-opacity="0.75"/><circle cx="777" cy="158" r="24" fill="#4e4e4e" stroke="#777" stroke-width="2.2"/><circle cx="777" cy="158" r="19.2" fill="none" stroke="#000" stroke-opacity="0.35" stroke-width="1.4"/><circle cx="777" cy="158" r="12.5" fill="#444" stroke="#000" stroke-opacity="0.5" stroke-width="1.7"/><path d="M792.5 161.1h0.01M785.8 171.2h0.01M773.9 173.5h0.01M763.8 166.8h0.01M761.5 154.9h0.01M768.2 144.8h0.01M780.1 142.5h0.01M790.2 149.2h0.01" stroke="#333" stroke-linecap="round" stroke-width="3.1"/><circle cx="777" cy="158" r="7.2" fill="#333" stroke="#ddd" stroke-opacity="0.35" stroke-width="1.4"/><circle cx="777" cy="158" r="3.4" fill="#111"/><circle cx="777" cy="158" r="25" fill="url(#wsh)"/><circle cx="751" cy="165" r="24" fill="#666" stroke="#8a8a8a" stroke-width="2.2"/><circle cx="751" cy="165" r="19.2" fill="none" stroke="#000" stroke-opacity="0.35" stroke-width="1.4"/><circle cx="751" cy="165" r="12.5" fill="#555" stroke="#000" stroke-opacity="0.5" stroke-width="1.7"/><path d="M766.5 168.1h0.01M759.8 178.2h0.01M747.9 180.5h0.01M737.8 173.8h0.01M735.5 161.9h0.01M742.2 151.8h0.01M754.1 149.5h0.01M764.2 156.2h0.01" stroke="#333" stroke-linecap="round" stroke-width="3.1"/><circle cx="751" cy="165" r="7.2" fill="#444" stroke="#ddd" stroke-opacity="0.35" stroke-width="1.4"/><circle cx="751" cy="165" r="3.4" fill="#111"/><circle cx="751" cy="165" r="25" fill="url(#wsh)"/><ellipse cx="722" cy="172" rx="24" ry="31" fill="#a8a8a8" stroke="#d0d0d0" stroke-width="2"/><ellipse cx="720" cy="172" rx="13" ry="18" fill="#8c8c8c" stroke="#555" stroke-width="1.5"/><circle cx="928" cy="128" r="14" fill="#555" stroke="#888" stroke-width="1.3"/><circle cx="928" cy="128" r="11.2" fill="none" stroke="#000" stroke-opacity="0.35" stroke-width="0.8"/><circle cx="928" cy="128" r="7.3" fill="#555" stroke="#000" stroke-opacity="0.5" stroke-width="1"/><path d="M937.1 129.8h0.01M933.1 135.7h0.01M926.2 137.1h0.01M920.3 133.1h0.01M918.9 126.2h0.01M922.9 120.3h0.01M929.8 118.9h0.01M935.7 122.9h0.01" stroke="#333" stroke-linecap="round" stroke-width="1.8"/><circle cx="928" cy="128" r="4.2" fill="#333" stroke="#ddd" stroke-opacity="0.35" stroke-width="0.8"/><circle cx="928" cy="128" r="2" fill="#111"/><circle cx="928" cy="128" r="14.6" fill="url(#wsh)"/><circle cx="928" cy="128" r="15" fill="none" stroke="#999" stroke-width="3.5" stroke-dasharray="3 3"/><circle cx="898" cy="138.7" r="22" fill="#8e8e8e" stroke="#b0b0b0" stroke-width="2"/><circle cx="898" cy="138.7" r="17.6" fill="none" stroke="#000" stroke-opacity="0.35" stroke-width="1.3"/><circle cx="898" cy="138.7" r="11.4" fill="#777" stroke="#000" stroke-opacity="0.5" stroke-width="1.5"/><path d="M912.2 141.6h0.01M906 150.8h0.01M895.1 152.9h0.01M885.9 146.7h0.01M883.8 135.8h0.01M890 126.6h0.01M900.9 124.5h0.01M910.1 130.7h0.01" stroke="#333" stroke-linecap="round" stroke-width="2.9"/><circle cx="898" cy="138.7" r="6.6" fill="#555" stroke="#ddd" stroke-opacity="0.35" stroke-width="1.3"/><circle cx="898" cy="138.7" r="3.1" fill="#111"/><circle cx="898" cy="138.7" r="22.9" fill="url(#wsh)"/><circle cx="864.6" cy="144.7" r="25" fill="#bdbdbd" stroke="#dedede" stroke-width="2.2"/><circle cx="864.6" cy="144.7" r="20" fill="none" stroke="#000" stroke-opacity="0.35" stroke-width="1.5"/><circle cx="864.6" cy="144.7" r="13" fill="#9a9a9a" stroke="#000" stroke-opacity="0.5" stroke-width="1.8"/><path d="M880.8 148h0.01M873.7 158.5h0.01M861.3 160.9h0.01M850.8 153.8h0.01M848.4 141.4h0.01M855.5 130.9h0.01M867.9 128.5h0.01M878.4 135.6h0.01" stroke="#333" stroke-linecap="round" stroke-width="3.2"/><circle cx="864.6" cy="144.7" r="7.5" fill="#666" stroke="#ddd" stroke-opacity="0.35" stroke-width="1.5"/><circle cx="864.6" cy="144.7" r="3.5" fill="#111"/><circle cx="864.6" cy="144.7" r="26" fill="url(#wsh)"/><path d="M936 142L936 164L888 184L874 174L905 160Z" fill="#6e6e6e"/><path d="M936 153L880 179" fill="none" stroke="#222" stroke-width="16" stroke-dasharray="2 6" stroke-opacity="0.7"/><path d="M784 184 L786 152 Q790 137 799 134 L810 132 Q822 140 829 156 L846 177 L840 186 L818 180 L800 186 Z" fill="#141414"/><ellipse cx="802" cy="127" rx="10" ry="9" fill="#141414"/><ellipse cx="800" cy="122" rx="11" ry="5" fill="#222"/><ellipse cx="812" cy="174.5" rx="6" ry="3" fill="#ccc" filter="url(#b1)"/><path d="M822 122L836 160" stroke="#999" stroke-width="0.8"/><path d="M771 187 L839.5 176 Q878 168.5 899 180 Q884 198 839.5 205.7 L776 225 Q770 223 770 205 Z" fill="url(#rk1)"/><ellipse cx="774" cy="206" rx="4.6" ry="19.4" fill="#3a3a3a" stroke="#aaa" stroke-width="1.2" transform="rotate(-4 774 206)"/><path d="M838 176L841 175.8L842.5 205L839.5 206Z" fill="#333"/><ellipse cx="843" cy="180" rx="4" ry="6" fill="#ddd"/><path d="M861 206L868 204.5L920 233L904 233Z" fill="#cfcfcf"/><path d="M813 219.5L820 218L838 233L826 233Z" fill="#c0c0c0"/><rect x="719" y="114" width="217" height="119" filter="url(#grain)" opacity="0.28"/></g><g clip-path="url(#c3)"><rect x="716" y="235" width="220" height="255" fill="url(#sky)"/><path d="M788.3 301L936 294.6L936 362L770 362Z" fill="#949494"/><g clip-path="url(#cs)"><g filter="url(#b2)"><ellipse cx="861" cy="320" rx="40" ry="25" fill="#e9e9e9"/><ellipse cx="850" cy="300" rx="26" ry="10" fill="#e4e4e4"/><ellipse cx="820" cy="356" rx="30" ry="7" fill="#e0e0e0"/><ellipse cx="845" cy="338" rx="22" ry="12" fill="#e6e6e6"/><ellipse cx="906" cy="316" rx="30" ry="26" fill="#7c7c7c"/><ellipse cx="885" cy="322" rx="14" ry="9" fill="#767676"/><ellipse cx="924" cy="348" rx="14" ry="11" fill="#d2d2d2"/><ellipse cx="870" cy="356" rx="24" ry="6.5" fill="#7e7e7e"/><ellipse cx="812" cy="322" rx="22" ry="22" fill="#868686"/><ellipse cx="826" cy="340" rx="12" ry="8" fill="#808080"/></g></g><ellipse cx="902" cy="291" rx="7" ry="4.5" fill="#8a8a8a" filter="url(#b2)"/><circle cx="917" cy="323" r="5.5" fill="#c8c8c8" stroke="#666" stroke-width="0.8"/><circle cx="786" cy="338" r="2.6" fill="#eee"/><circle cx="904" cy="331" r="3" fill="#eee"/><circle cx="812" cy="350.5" r="1.6" fill="#444"/><circle cx="821" cy="350.5" r="1.6" fill="#444"/><circle cx="872" cy="349.5" r="1.6" fill="#444"/><circle cx="882" cy="349.5" r="1.6" fill="#444"/><circle cx="882" cy="354" r="1.6" fill="#444"/><path d="M770 361.5L936 361.5" stroke="#333" stroke-width="1.2"/><rect x="716" y="362" width="220" height="50" fill="#b0b0b0"/><g filter="url(#b4)"><ellipse cx="745" cy="375" rx="22" ry="8" fill="#7a7a7a"/><ellipse cx="726" cy="388" rx="12" ry="24" fill="#858585"/><ellipse cx="830" cy="372" rx="28" ry="7" fill="#8a8a8a"/><ellipse cx="880" cy="378" rx="25" ry="8" fill="#c4c4c4"/><ellipse cx="800" cy="386" rx="20" ry="6" fill="#c0c0c0"/></g><rect x="716" y="362" width="220" height="50" filter="url(#coarse)" opacity="0.35"/><circle cx="811" cy="366.8" r="2" fill="#555"/><circle cx="820" cy="366.8" r="2" fill="#555"/><circle cx="881" cy="372" r="2" fill="#555"/><circle cx="787" cy="382" r="2" fill="#555"/><circle cx="862" cy="386" r="2" fill="#555"/><circle cx="905" cy="382" r="2" fill="#555"/><circle cx="738" cy="385" r="2" fill="#555"/><rect x="716" y="411" width="220" height="79" fill="#131313"/><rect x="716" y="420.8" width="220" height="6.8" fill="#8a8a8a"/><path d="M716 424.2L936 424.2" stroke="#1a1a1a" stroke-width="6.8" stroke-dasharray="1.6 4.4" stroke-opacity="0.8"/><circle cx="836" cy="455" r="14" fill="#454545" stroke="#6a6a6a" stroke-width="1.3"/><circle cx="836" cy="455" r="11.2" fill="none" stroke="#000" stroke-opacity="0.35" stroke-width="0.8"/><circle cx="836" cy="455" r="7.3" fill="#454545" stroke="#000" stroke-opacity="0.5" stroke-width="1"/><path d="M845.1 456.8h0.01M841.1 462.7h0.01M834.2 464.1h0.01M828.3 460.1h0.01M826.9 453.2h0.01M830.9 447.3h0.01M837.8 445.9h0.01M843.7 449.9h0.01" stroke="#333" stroke-linecap="round" stroke-width="1.8"/><circle cx="836" cy="455" r="4.2" fill="#333" stroke="#ddd" stroke-opacity="0.35" stroke-width="0.8"/><circle cx="836" cy="455" r="2" fill="#111"/><circle cx="836" cy="455" r="14.6" fill="url(#wsh)"/><circle cx="800.5" cy="456.4" r="27" fill="#343434" stroke="#6c6c6c" stroke-width="2.4"/><circle cx="800.5" cy="456.4" r="21.6" fill="none" stroke="#000" stroke-opacity="0.35" stroke-width="1.6"/><circle cx="800.5" cy="456.4" r="14" fill="#414141" stroke="#000" stroke-opacity="0.5" stroke-width="1.9"/><path d="M818 459.9h0.01M810.3 471.3h0.01M797 473.9h0.01M785.6 466.2h0.01M783 452.9h0.01M790.7 441.5h0.01M804 438.9h0.01M815.4 446.6h0.01" stroke="#6a6a6a" stroke-linecap="round" stroke-width="3.5"/><circle cx="800.5" cy="456.4" r="8.1" fill="#2a2a2a" stroke="#ddd" stroke-opacity="0.35" stroke-width="1.6"/><circle cx="800.5" cy="456.4" r="3.8" fill="#111"/><circle cx="800.5" cy="456.4" r="28.1" fill="url(#wsh)"/><circle cx="870" cy="456" r="27" fill="#383838" stroke="#727272" stroke-width="2.4"/><circle cx="870" cy="456" r="21.6" fill="none" stroke="#000" stroke-opacity="0.35" stroke-width="1.6"/><circle cx="870" cy="456" r="14" fill="#454545" stroke="#000" stroke-opacity="0.5" stroke-width="1.9"/><path d="M887.5 459.5h0.01M879.8 470.9h0.01M866.5 473.5h0.01M855.1 465.8h0.01M852.5 452.5h0.01M860.2 441.1h0.01M873.5 438.5h0.01M884.9 446.2h0.01" stroke="#6a6a6a" stroke-linecap="round" stroke-width="3.5"/><circle cx="870" cy="456" r="8.1" fill="#2c2c2c" stroke="#ddd" stroke-opacity="0.35" stroke-width="1.6"/><circle cx="870" cy="456" r="3.8" fill="#111"/><circle cx="870" cy="456" r="28.1" fill="url(#wsh)"/><circle cx="948" cy="455" r="27" fill="#6a6a6a" stroke="#999" stroke-width="2.4"/><circle cx="948" cy="455" r="21.6" fill="none" stroke="#000" stroke-opacity="0.35" stroke-width="1.6"/><circle cx="948" cy="455" r="14" fill="#6a6a6a" stroke="#000" stroke-opacity="0.5" stroke-width="1.9"/><path d="M965.5 458.5h0.01M957.8 469.9h0.01M944.5 472.5h0.01M933.1 464.8h0.01M930.5 451.5h0.01M938.2 440.1h0.01M951.5 437.5h0.01M962.9 445.2h0.01" stroke="#333" stroke-linecap="round" stroke-width="3.5"/><circle cx="948" cy="455" r="8.1" fill="#444" stroke="#ddd" stroke-opacity="0.35" stroke-width="1.6"/><circle cx="948" cy="455" r="3.8" fill="#111"/><circle cx="948" cy="455" r="28.1" fill="url(#wsh)"/><circle cx="727" cy="470" r="14" fill="#262626" stroke="#444" stroke-width="2"/><circle cx="733" cy="480" r="2.4" fill="#999"/><rect x="716" y="479.6" width="220" height="10" fill="#5e5e5e"/><path d="M716 484.5L936 484.5" stroke="#151515" stroke-width="10" stroke-dasharray="2 5" stroke-opacity="0.8"/><path d="M766 393 L858 392 Q880 394.5 885.5 405 Q880 416.5 858 419.7 L766 419.7 Q764 406 766 393Z" fill="url(#rk3)"/><rect x="814.5" y="391" width="2.4" height="29" fill="#444"/><path d="M768 255L819 235.6L821.6 238.6L770 259Z" fill="#2a2a2a"/><path d="M770 248.4L813 236.6" stroke="#333" stroke-width="1.3"/><path d="M748 322L762 298" stroke="#8a8a8a" stroke-width="3"/><path d="M760.2 254.5L767.5 247.1L783.4 250.8L792 261.8L792 278.9L788.3 288.7L783.4 301L771.2 303.4L759 303.4L757.7 278.9Z" fill="#111"/><path d="M759 303.4L771.2 303.4L770.7 327.9L770 357.2L760.2 357.2L757.7 327.9Z" fill="#141414"/><ellipse cx="787" cy="257" rx="6" ry="6.5" fill="#1a1a1a"/><rect x="770.2" y="250" width="5.6" height="107" fill="#6e6e6e"/><rect x="757.7" y="283.8" width="23.5" height="13.5" fill="#8c8c8c"/><rect x="774.8" y="301" width="16" height="9.7" fill="#7a7a7a"/><path d="M787 288L797 304" stroke="#999" stroke-width="2.6"/><path d="M792 288L806 291L806 294L792 295Z" fill="#bbb"/><ellipse cx="735.6" cy="272.6" rx="7" ry="7.6" fill="#151515"/><path d="M716 287 L730 280 L742 283 L748 300 L752 318 L746 323 L739 308 L736 332 L746 358 L730 358 L722 336 L716 332 Z" fill="#101010"/><ellipse cx="747" cy="320" rx="3" ry="3" fill="#bbb"/><rect x="716" y="358.4" width="56" height="3.8" fill="#2a2a2a"/><rect x="722" y="347" width="1.2" height="11" fill="#444"/><rect x="745" y="349" width="1.2" height="9" fill="#444"/><rect x="722" y="350" width="24" height="1" fill="#555"/><path d="M736 396 L744 384 L757 380 L767 391 L770 408 L769 426 L768 490 L738 490 L736 432 Z" fill="#0d0d0d"/><ellipse cx="758" cy="370" rx="7" ry="8" fill="#2a2a2a"/><ellipse cx="761" cy="372" rx="3.4" ry="5" fill="#999"/><path d="M748 364.5L768 362L769 366L750 369Z" fill="#0c0c0c"/><ellipse cx="768" cy="414" rx="5" ry="4" fill="#d0d0d0" filter="url(#b1)"/><path d="M881 413 L886 398 L896 386 L914 380 L923 394 L924 430 L923 490 L890 490 L889 432 Z" fill="#0d0d0d"/><ellipse cx="903" cy="371" rx="7" ry="8" fill="#8a8a8a"/><path d="M894 364L905 354.5L918 362L913 370Z" fill="#0c0c0c"/><ellipse cx="875" cy="410" rx="6" ry="4" fill="#d8d8d8" filter="url(#b1)"/><rect x="716" y="296" width="220" height="194" filter="url(#grain)" opacity="0.16"/><rect x="716" y="235" width="110" height="61" filter="url(#grain)" opacity="0.07"/></g></svg>
<div class="abs" style="left:0;top:0;width:940px;height:663px;transform-origin:261px 560px;transform:translateY(0.4px) rotate(-0.3deg)">
<div class="col " style="left:64px;top:495.9px">
<p>展示されている車輌は 40 個、ア</p>
<p>メリカに送られ、その後コブレン</p>
<p>ツに展示されている車輌では 31</p>
<p class="e">個という例が見られる。</p>
<p>　外筒と一体化された防盾は車輌</p>
<p>により変化が見られ、コブレンツ</p>
<p>に置かれている車輌のものが一般</p>
<p>的だが、クビンカの車輌には試作</p>
<p>車の防盾に酷似した形状のものが</p>
<p class="e">用いられている。</p>
</div>
<div class="col " style="left:202px;top:495.9px">
<p>　同様に、砲身のバランスをとる</p>
<p>ためのカウンター・ウエイトも車</p>
<p>輌によってかなり形状に違いが見</p>
<p class="e">られた。</p>
<p>　なおイギリス軍の報告書では、</p>
<p>内筒の全長 188㎝、弾薬全長 206</p>
<p>㎝、尾栓と内筒との間隔 47.5㎜、</p>
<p>ブリーチ・ブロック厚 59㎜、ラ</p>
<p>イフリングの深さ 5㎜、ライフリ</p>
<p>ング幅 10㎜との測定数値を残し</p>
</div>
<div class="col " style="left:339px;top:495.9px">
<p class="e">ている。</p>
<p>　尾栓は水平スライド式の閉鎖器</p>
<p>が用いられ、右側に滑らせて尾栓</p>
<p>を開くが、事故を防ぐため完全に</p>
<p>閉鎖されていない場合には、砲</p>
<p>尾右側の発射レバーが可動しない</p>
<p class="e">機構が採られていた。</p>
<p>　RW61 は上下、左右の支柱を介</p>
<p>して砲架に装着するいわゆるカル</p>
<p>ダン式砲架が用いられ、砲架自体</p>
</div>
<div class="pg" style="left:254px;top:630.5px">-98-</div>
</div><div class="abs" style="left:0;top:0;width:940px;height:663px;transform-origin:703px 557px;transform:translateY(-0.3px) rotate(-0.33deg)">
<div class="col rp" style="left:507px;top:494.5px">
<p>は球形の装甲カバーに収められて</p>
<p class="e">いる。</p>
<p>　砲の左側に位置する砲手席に置</p>
<p>かれたハンドル操作により作動</p>
<p>し、俯仰角は－ 0 ～＋ 65°、旋回</p>
<p class="e">角は左右各 10°ずつである。</p>
<p>　ロケット弾は、4581 式榴弾</p>
<p>(R.Sprgr.4581) と、4592 式成形炸</p>
<p>薬弾が開発されたが、実戦で使用</p>
<p>されたのは榴弾のみといわれてい</p>
</div>
<div class="col rp" style="left:645px;top:494.5px">
<p>る。また煙幕弾も用意されたが、</p>
<p>搭載弾数が最大でも 14 発と少な</p>
<p>いため、やはり実戦では用いられ</p>
<p class="e">なかったものと思われる。</p>
<p>　いずれの砲弾も 3 分割された</p>
<p>弾体を結合するという方式を採</p>
<p>り、前方から順に炸薬部、推進薬</p>
<p>部、底部板とされている。信管を</p>
<p>取り付けた状態での弾体の全長は</p>
<p>1489㎜で、砲弾搭載時の目安とす</p>
</div>
<div class="col rp" style="left:782px;top:494.5px">
<p>るために、重心位置にあたる部</p>
<p>分には 2㎝幅の白帯が巻かれてい</p>
<p class="e">た。</p>
<p>　推進薬に固形ロケット燃料を用</p>
<p>いている関係上、射程は周囲の温</p>
<p>度に影響されるので<span class=h>、</span>最大射程は<span class=h>、</span></p>
<p>マニュアルに記されている数字で</p>
<p>は<span class=h>、</span>榴弾で－ 40 度の場合 4200m<span class=h>、</span></p>
<p>以下 0 度で 5150m、＋ 15 度で</p>
<p>5560m、＋ 50 度で 5900m とされ</p>
</div>
<div class="pg" style="left:697px;top:628px">-99-</div></div>
<div class="cap"><p>クレーンを使ったロケット</p><p>弾の搭載要領を示す連続写</p><p>真。クレーンはご覧のよう</p><p>に手動式だ。</p></div>
</body></html>
